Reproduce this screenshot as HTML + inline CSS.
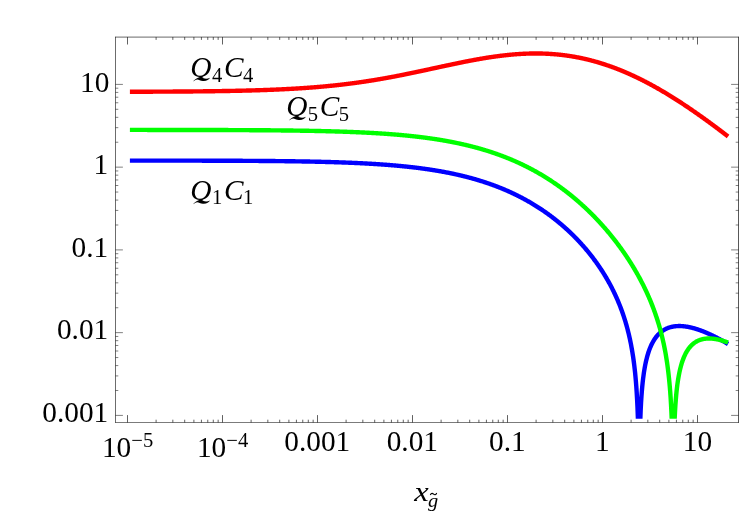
<!DOCTYPE html>
<html><head><meta charset="utf-8"><title>plot</title>
<style>html,body{margin:0;padding:0;background:#fff;}body{width:747px;height:515px;overflow:hidden;position:relative;font-family:"Liberation Serif",serif;}</style>
</head><body>
<svg width="747" height="515" viewBox="0 0 747 515" style="position:absolute;left:0;top:0;will-change:transform">
<defs><clipPath id="c"><rect x="115.5" y="37.1" width="623.0" height="381.59999999999997"/></clipPath></defs>
<rect x="0" y="0" width="747" height="515" fill="#fff"/>
<g clip-path="url(#c)" fill="none" stroke-width="4.4" stroke-linejoin="round" stroke-linecap="butt">
<path stroke="#0000ff" d="M129.90,160.59 L130.30,160.59 L130.70,160.59 L131.10,160.59 L131.50,160.59 L131.90,160.59 L132.29,160.59 L132.69,160.59 L133.09,160.59 L133.49,160.59 L133.89,160.59 L134.29,160.59 L134.69,160.59 L135.09,160.59 L135.49,160.59 L135.89,160.59 L136.28,160.59 L136.68,160.59 L137.08,160.59 L137.48,160.59 L137.88,160.59 L138.28,160.59 L138.68,160.59 L139.08,160.59 L139.48,160.59 L139.88,160.59 L140.27,160.59 L140.67,160.59 L141.07,160.59 L141.47,160.59 L141.87,160.59 L142.27,160.59 L142.67,160.59 L143.07,160.59 L143.47,160.59 L143.87,160.59 L144.27,160.60 L144.66,160.60 L145.06,160.60 L145.46,160.60 L145.86,160.60 L146.26,160.60 L146.66,160.60 L147.06,160.60 L147.46,160.60 L147.86,160.60 L148.26,160.60 L148.65,160.60 L149.05,160.60 L149.45,160.60 L149.85,160.60 L150.25,160.60 L150.65,160.60 L151.05,160.60 L151.45,160.60 L151.85,160.60 L152.25,160.60 L152.64,160.60 L153.04,160.60 L153.44,160.60 L153.84,160.60 L154.24,160.60 L154.64,160.60 L155.04,160.60 L155.44,160.60 L155.84,160.60 L156.24,160.60 L156.64,160.61 L157.03,160.61 L157.43,160.61 L157.83,160.61 L158.23,160.61 L158.63,160.61 L159.03,160.61 L159.43,160.61 L159.83,160.61 L160.23,160.61 L160.63,160.61 L161.02,160.61 L161.42,160.61 L161.82,160.61 L162.22,160.61 L162.62,160.61 L163.02,160.61 L163.42,160.61 L163.82,160.61 L164.22,160.61 L164.62,160.61 L165.01,160.61 L165.41,160.61 L165.81,160.61 L166.21,160.62 L166.61,160.62 L167.01,160.62 L167.41,160.62 L167.81,160.62 L168.21,160.62 L168.61,160.62 L169.01,160.62 L169.40,160.62 L169.80,160.62 L170.20,160.62 L170.60,160.62 L171.00,160.62 L171.40,160.62 L171.80,160.62 L172.20,160.62 L172.60,160.62 L173.00,160.62 L173.39,160.62 L173.79,160.62 L174.19,160.62 L174.59,160.63 L174.99,160.63 L175.39,160.63 L175.79,160.63 L176.19,160.63 L176.59,160.63 L176.99,160.63 L177.38,160.63 L177.78,160.63 L178.18,160.63 L178.58,160.63 L178.98,160.63 L179.38,160.63 L179.78,160.63 L180.18,160.63 L180.58,160.63 L180.98,160.63 L181.38,160.64 L181.77,160.64 L182.17,160.64 L182.57,160.64 L182.97,160.64 L183.37,160.64 L183.77,160.64 L184.17,160.64 L184.57,160.64 L184.97,160.64 L185.37,160.64 L185.76,160.64 L186.16,160.64 L186.56,160.64 L186.96,160.64 L187.36,160.65 L187.76,160.65 L188.16,160.65 L188.56,160.65 L188.96,160.65 L189.36,160.65 L189.75,160.65 L190.15,160.65 L190.55,160.65 L190.95,160.65 L191.35,160.65 L191.75,160.65 L192.15,160.65 L192.55,160.65 L192.95,160.66 L193.35,160.66 L193.75,160.66 L194.14,160.66 L194.54,160.66 L194.94,160.66 L195.34,160.66 L195.74,160.66 L196.14,160.66 L196.54,160.66 L196.94,160.66 L197.34,160.66 L197.74,160.67 L198.13,160.67 L198.53,160.67 L198.93,160.67 L199.33,160.67 L199.73,160.67 L200.13,160.67 L200.53,160.67 L200.93,160.67 L201.33,160.67 L201.73,160.67 L202.12,160.68 L202.52,160.68 L202.92,160.68 L203.32,160.68 L203.72,160.68 L204.12,160.68 L204.52,160.68 L204.92,160.68 L205.32,160.68 L205.72,160.68 L206.12,160.69 L206.51,160.69 L206.91,160.69 L207.31,160.69 L207.71,160.69 L208.11,160.69 L208.51,160.69 L208.91,160.69 L209.31,160.69 L209.71,160.70 L210.11,160.70 L210.50,160.70 L210.90,160.70 L211.30,160.70 L211.70,160.70 L212.10,160.70 L212.50,160.70 L212.90,160.70 L213.30,160.71 L213.70,160.71 L214.10,160.71 L214.49,160.71 L214.89,160.71 L215.29,160.71 L215.69,160.71 L216.09,160.71 L216.49,160.72 L216.89,160.72 L217.29,160.72 L217.69,160.72 L218.09,160.72 L218.49,160.72 L218.88,160.72 L219.28,160.72 L219.68,160.73 L220.08,160.73 L220.48,160.73 L220.88,160.73 L221.28,160.73 L221.68,160.73 L222.08,160.73 L222.48,160.74 L222.87,160.74 L223.27,160.74 L223.67,160.74 L224.07,160.74 L224.47,160.74 L224.87,160.74 L225.27,160.75 L225.67,160.75 L226.07,160.75 L226.47,160.75 L226.86,160.75 L227.26,160.75 L227.66,160.76 L228.06,160.76 L228.46,160.76 L228.86,160.76 L229.26,160.76 L229.66,160.76 L230.06,160.77 L230.46,160.77 L230.86,160.77 L231.25,160.77 L231.65,160.77 L232.05,160.77 L232.45,160.78 L232.85,160.78 L233.25,160.78 L233.65,160.78 L234.05,160.78 L234.45,160.78 L234.85,160.79 L235.24,160.79 L235.64,160.79 L236.04,160.79 L236.44,160.79 L236.84,160.80 L237.24,160.80 L237.64,160.80 L238.04,160.80 L238.44,160.80 L238.84,160.81 L239.23,160.81 L239.63,160.81 L240.03,160.81 L240.43,160.81 L240.83,160.82 L241.23,160.82 L241.63,160.82 L242.03,160.82 L242.43,160.82 L242.83,160.83 L243.23,160.83 L243.62,160.83 L244.02,160.83 L244.42,160.83 L244.82,160.84 L245.22,160.84 L245.62,160.84 L246.02,160.84 L246.42,160.85 L246.82,160.85 L247.22,160.85 L247.61,160.85 L248.01,160.86 L248.41,160.86 L248.81,160.86 L249.21,160.86 L249.61,160.87 L250.01,160.87 L250.41,160.87 L250.81,160.87 L251.21,160.88 L251.60,160.88 L252.00,160.88 L252.40,160.88 L252.80,160.89 L253.20,160.89 L253.60,160.89 L254.00,160.89 L254.40,160.90 L254.80,160.90 L255.20,160.90 L255.60,160.90 L255.99,160.91 L256.39,160.91 L256.79,160.91 L257.19,160.92 L257.59,160.92 L257.99,160.92 L258.39,160.92 L258.79,160.93 L259.19,160.93 L259.59,160.93 L259.98,160.94 L260.38,160.94 L260.78,160.94 L261.18,160.95 L261.58,160.95 L261.98,160.95 L262.38,160.96 L262.78,160.96 L263.18,160.96 L263.58,160.97 L263.97,160.97 L264.37,160.97 L264.77,160.98 L265.17,160.98 L265.57,160.98 L265.97,160.99 L266.37,160.99 L266.77,160.99 L267.17,161.00 L267.57,161.00 L267.97,161.00 L268.36,161.01 L268.76,161.01 L269.16,161.01 L269.56,161.02 L269.96,161.02 L270.36,161.02 L270.76,161.03 L271.16,161.03 L271.56,161.04 L271.96,161.04 L272.35,161.04 L272.75,161.05 L273.15,161.05 L273.55,161.06 L273.95,161.06 L274.35,161.06 L274.75,161.07 L275.15,161.07 L275.55,161.08 L275.95,161.08 L276.34,161.08 L276.74,161.09 L277.14,161.09 L277.54,161.10 L277.94,161.10 L278.34,161.10 L278.74,161.11 L279.14,161.11 L279.54,161.12 L279.94,161.12 L280.34,161.13 L280.73,161.13 L281.13,161.14 L281.53,161.14 L281.93,161.15 L282.33,161.15 L282.73,161.15 L283.13,161.16 L283.53,161.16 L283.93,161.17 L284.33,161.17 L284.72,161.18 L285.12,161.18 L285.52,161.19 L285.92,161.19 L286.32,161.20 L286.72,161.20 L287.12,161.21 L287.52,161.21 L287.92,161.22 L288.32,161.22 L288.72,161.23 L289.11,161.23 L289.51,161.24 L289.91,161.25 L290.31,161.25 L290.71,161.26 L291.11,161.26 L291.51,161.27 L291.91,161.27 L292.31,161.28 L292.71,161.28 L293.10,161.29 L293.50,161.30 L293.90,161.30 L294.30,161.31 L294.70,161.31 L295.10,161.32 L295.50,161.33 L295.90,161.33 L296.30,161.34 L296.70,161.34 L297.09,161.35 L297.49,161.36 L297.89,161.36 L298.29,161.37 L298.69,161.37 L299.09,161.38 L299.49,161.39 L299.89,161.39 L300.29,161.40 L300.69,161.41 L301.09,161.41 L301.48,161.42 L301.88,161.43 L302.28,161.43 L302.68,161.44 L303.08,161.45 L303.48,161.46 L303.88,161.46 L304.28,161.47 L304.68,161.48 L305.08,161.48 L305.47,161.49 L305.87,161.50 L306.27,161.51 L306.67,161.51 L307.07,161.52 L307.47,161.53 L307.87,161.54 L308.27,161.54 L308.67,161.55 L309.07,161.56 L309.46,161.57 L309.86,161.57 L310.26,161.58 L310.66,161.59 L311.06,161.60 L311.46,161.61 L311.86,161.61 L312.26,161.62 L312.66,161.63 L313.06,161.64 L313.46,161.65 L313.85,161.66 L314.25,161.66 L314.65,161.67 L315.05,161.68 L315.45,161.69 L315.85,161.70 L316.25,161.71 L316.65,161.72 L317.05,161.73 L317.45,161.73 L317.84,161.74 L318.24,161.75 L318.64,161.76 L319.04,161.77 L319.44,161.78 L319.84,161.79 L320.24,161.80 L320.64,161.81 L321.04,161.82 L321.44,161.83 L321.83,161.84 L322.23,161.85 L322.63,161.86 L323.03,161.87 L323.43,161.88 L323.83,161.89 L324.23,161.90 L324.63,161.91 L325.03,161.92 L325.43,161.93 L325.83,161.94 L326.22,161.95 L326.62,161.96 L327.02,161.97 L327.42,161.98 L327.82,161.99 L328.22,162.00 L328.62,162.02 L329.02,162.03 L329.42,162.04 L329.82,162.05 L330.21,162.06 L330.61,162.07 L331.01,162.08 L331.41,162.10 L331.81,162.11 L332.21,162.12 L332.61,162.13 L333.01,162.14 L333.41,162.16 L333.81,162.17 L334.20,162.18 L334.60,162.19 L335.00,162.20 L335.40,162.22 L335.80,162.23 L336.20,162.24 L336.60,162.25 L337.00,162.27 L337.40,162.28 L337.80,162.29 L338.20,162.31 L338.59,162.32 L338.99,162.33 L339.39,162.35 L339.79,162.36 L340.19,162.37 L340.59,162.39 L340.99,162.40 L341.39,162.42 L341.79,162.43 L342.19,162.44 L342.58,162.46 L342.98,162.47 L343.38,162.49 L343.78,162.50 L344.18,162.52 L344.58,162.53 L344.98,162.55 L345.38,162.56 L345.78,162.58 L346.18,162.59 L346.57,162.61 L346.97,162.62 L347.37,162.64 L347.77,162.65 L348.17,162.67 L348.57,162.68 L348.97,162.70 L349.37,162.72 L349.77,162.73 L350.17,162.75 L350.57,162.76 L350.96,162.78 L351.36,162.80 L351.76,162.81 L352.16,162.83 L352.56,162.85 L352.96,162.87 L353.36,162.88 L353.76,162.90 L354.16,162.92 L354.56,162.93 L354.95,162.95 L355.35,162.97 L355.75,162.99 L356.15,163.01 L356.55,163.02 L356.95,163.04 L357.35,163.06 L357.75,163.08 L358.15,163.10 L358.55,163.12 L358.94,163.14 L359.34,163.16 L359.74,163.17 L360.14,163.19 L360.54,163.21 L360.94,163.23 L361.34,163.25 L361.74,163.27 L362.14,163.29 L362.54,163.31 L362.94,163.33 L363.33,163.35 L363.73,163.37 L364.13,163.40 L364.53,163.42 L364.93,163.44 L365.33,163.46 L365.73,163.48 L366.13,163.50 L366.53,163.52 L366.93,163.54 L367.32,163.57 L367.72,163.59 L368.12,163.61 L368.52,163.63 L368.92,163.66 L369.32,163.68 L369.72,163.70 L370.12,163.72 L370.52,163.75 L370.92,163.77 L371.31,163.79 L371.71,163.82 L372.11,163.84 L372.51,163.86 L372.91,163.89 L373.31,163.91 L373.71,163.94 L374.11,163.96 L374.51,163.99 L374.91,164.01 L375.31,164.04 L375.70,164.06 L376.10,164.09 L376.50,164.11 L376.90,164.14 L377.30,164.16 L377.70,164.19 L378.10,164.22 L378.50,164.24 L378.90,164.27 L379.30,164.30 L379.69,164.32 L380.09,164.35 L380.49,164.38 L380.89,164.41 L381.29,164.43 L381.69,164.46 L382.09,164.49 L382.49,164.52 L382.89,164.55 L383.29,164.58 L383.68,164.60 L384.08,164.63 L384.48,164.66 L384.88,164.69 L385.28,164.72 L385.68,164.75 L386.08,164.78 L386.48,164.81 L386.88,164.84 L387.28,164.87 L387.68,164.90 L388.07,164.93 L388.47,164.97 L388.87,165.00 L389.27,165.03 L389.67,165.06 L390.07,165.09 L390.47,165.13 L390.87,165.16 L391.27,165.19 L391.67,165.22 L392.06,165.26 L392.46,165.29 L392.86,165.32 L393.26,165.36 L393.66,165.39 L394.06,165.43 L394.46,165.46 L394.86,165.49 L395.26,165.53 L395.66,165.56 L396.05,165.60 L396.45,165.64 L396.85,165.67 L397.25,165.71 L397.65,165.74 L398.05,165.78 L398.45,165.82 L398.85,165.85 L399.25,165.89 L399.65,165.93 L400.05,165.97 L400.44,166.00 L400.84,166.04 L401.24,166.08 L401.64,166.12 L402.04,166.16 L402.44,166.20 L402.84,166.24 L403.24,166.28 L403.64,166.32 L404.04,166.36 L404.43,166.40 L404.83,166.44 L405.23,166.48 L405.63,166.52 L406.03,166.56 L406.43,166.60 L406.83,166.64 L407.23,166.69 L407.63,166.73 L408.03,166.77 L408.42,166.82 L408.82,166.86 L409.22,166.90 L409.62,166.95 L410.02,166.99 L410.42,167.04 L410.82,167.08 L411.22,167.13 L411.62,167.17 L412.02,167.22 L412.42,167.26 L412.81,167.31 L413.21,167.35 L413.61,167.40 L414.01,167.45 L414.41,167.50 L414.81,167.54 L415.21,167.59 L415.61,167.64 L416.01,167.69 L416.41,167.74 L416.80,167.79 L417.20,167.84 L417.60,167.89 L418.00,167.94 L418.40,167.99 L418.80,168.04 L419.20,168.09 L419.60,168.14 L420.00,168.19 L420.40,168.24 L420.79,168.29 L421.19,168.35 L421.59,168.40 L421.99,168.45 L422.39,168.51 L422.79,168.56 L423.19,168.61 L423.59,168.67 L423.99,168.72 L424.39,168.78 L424.79,168.84 L425.18,168.89 L425.58,168.95 L425.98,169.00 L426.38,169.06 L426.78,169.12 L427.18,169.18 L427.58,169.23 L427.98,169.29 L428.38,169.35 L428.78,169.41 L429.17,169.47 L429.57,169.53 L429.97,169.59 L430.37,169.65 L430.77,169.71 L431.17,169.77 L431.57,169.83 L431.97,169.90 L432.37,169.96 L432.77,170.02 L433.16,170.08 L433.56,170.15 L433.96,170.21 L434.36,170.27 L434.76,170.34 L435.16,170.40 L435.56,170.47 L435.96,170.54 L436.36,170.60 L436.76,170.67 L437.16,170.74 L437.55,170.80 L437.95,170.87 L438.35,170.94 L438.75,171.01 L439.15,171.08 L439.55,171.15 L439.95,171.22 L440.35,171.29 L440.75,171.36 L441.15,171.43 L441.54,171.50 L441.94,171.57 L442.34,171.64 L442.74,171.72 L443.14,171.79 L443.54,171.86 L443.94,171.94 L444.34,172.01 L444.74,172.09 L445.14,172.16 L445.53,172.24 L445.93,172.31 L446.33,172.39 L446.73,172.47 L447.13,172.54 L447.53,172.62 L447.93,172.70 L448.33,172.78 L448.73,172.86 L449.13,172.94 L449.53,173.02 L449.92,173.10 L450.32,173.18 L450.72,173.26 L451.12,173.34 L451.52,173.43 L451.92,173.51 L452.32,173.59 L452.72,173.68 L453.12,173.76 L453.52,173.85 L453.91,173.93 L454.31,174.02 L454.71,174.10 L455.11,174.19 L455.51,174.28 L455.91,174.37 L456.31,174.46 L456.71,174.54 L457.11,174.63 L457.51,174.72 L457.90,174.81 L458.30,174.91 L458.70,175.00 L459.10,175.09 L459.50,175.18 L459.90,175.27 L460.30,175.37 L460.70,175.46 L461.10,175.56 L461.50,175.65 L461.90,175.75 L462.29,175.84 L462.69,175.94 L463.09,176.04 L463.49,176.14 L463.89,176.23 L464.29,176.33 L464.69,176.43 L465.09,176.53 L465.49,176.63 L465.89,176.73 L466.28,176.84 L466.68,176.94 L467.08,177.04 L467.48,177.14 L467.88,177.25 L468.28,177.35 L468.68,177.46 L469.08,177.56 L469.48,177.67 L469.88,177.78 L470.27,177.89 L470.67,177.99 L471.07,178.10 L471.47,178.21 L471.87,178.32 L472.27,178.43 L472.67,178.54 L473.07,178.65 L473.47,178.77 L473.87,178.88 L474.27,178.99 L474.66,179.11 L475.06,179.22 L475.46,179.34 L475.86,179.45 L476.26,179.57 L476.66,179.69 L477.06,179.80 L477.46,179.92 L477.86,180.04 L478.26,180.16 L478.65,180.28 L479.05,180.40 L479.45,180.53 L479.85,180.65 L480.25,180.77 L480.65,180.90 L481.05,181.02 L481.45,181.14 L481.85,181.27 L482.25,181.40 L482.64,181.52 L483.04,181.65 L483.44,181.78 L483.84,181.91 L484.24,182.04 L484.64,182.17 L485.04,182.30 L485.44,182.43 L485.84,182.56 L486.24,182.70 L486.64,182.83 L487.03,182.97 L487.43,183.10 L487.83,183.24 L488.23,183.38 L488.63,183.51 L489.03,183.65 L489.43,183.79 L489.83,183.93 L490.23,184.07 L490.63,184.21 L491.02,184.35 L491.42,184.50 L491.82,184.64 L492.22,184.78 L492.62,184.93 L493.02,185.07 L493.42,185.22 L493.82,185.37 L494.22,185.52 L494.62,185.66 L495.01,185.81 L495.41,185.96 L495.81,186.12 L496.21,186.27 L496.61,186.42 L497.01,186.57 L497.41,186.73 L497.81,186.88 L498.21,187.04 L498.61,187.19 L499.01,187.35 L499.40,187.51 L499.80,187.67 L500.20,187.83 L500.60,187.99 L501.00,188.15 L501.40,188.31 L501.80,188.48 L502.20,188.64 L502.60,188.81 L503.00,188.97 L503.39,189.14 L503.79,189.31 L504.19,189.47 L504.59,189.64 L504.99,189.81 L505.39,189.98 L505.79,190.15 L506.19,190.33 L506.59,190.50 L506.99,190.67 L507.38,190.85 L507.78,191.03 L508.18,191.20 L508.58,191.38 L508.98,191.56 L509.38,191.74 L509.78,191.92 L510.18,192.10 L510.58,192.28 L510.98,192.47 L511.38,192.65 L511.77,192.83 L512.17,193.02 L512.57,193.21 L512.97,193.40 L513.37,193.58 L513.77,193.77 L514.17,193.96 L514.57,194.16 L514.97,194.35 L515.37,194.54 L515.76,194.74 L516.16,194.93 L516.56,195.13 L516.96,195.33 L517.36,195.52 L517.76,195.72 L518.16,195.92 L518.56,196.12 L518.96,196.33 L519.36,196.53 L519.75,196.73 L520.15,196.94 L520.55,197.15 L520.95,197.35 L521.35,197.56 L521.75,197.77 L522.15,197.98 L522.55,198.19 L522.95,198.41 L523.35,198.62 L523.75,198.83 L524.14,199.05 L524.54,199.27 L524.94,199.48 L525.34,199.70 L525.74,199.92 L526.14,200.14 L526.54,200.37 L526.94,200.59 L527.34,200.81 L527.74,201.04 L528.13,201.26 L528.53,201.49 L528.93,201.72 L529.33,201.95 L529.73,202.18 L530.13,202.41 L530.53,202.65 L530.93,202.88 L531.33,203.11 L531.73,203.35 L532.12,203.59 L532.52,203.83 L532.92,204.07 L533.32,204.31 L533.72,204.55 L534.12,204.79 L534.52,205.04 L534.92,205.28 L535.32,205.53 L535.72,205.78 L536.12,206.03 L536.51,206.28 L536.91,206.53 L537.31,206.78 L537.71,207.04 L538.11,207.29 L538.51,207.55 L538.91,207.81 L539.31,208.07 L539.71,208.33 L540.11,208.59 L540.50,208.85 L540.90,209.12 L541.30,209.38 L541.70,209.65 L542.10,209.92 L542.50,210.19 L542.90,210.46 L543.30,210.73 L543.70,211.00 L544.10,211.28 L544.49,211.55 L544.89,211.83 L545.29,212.11 L545.69,212.39 L546.09,212.67 L546.49,212.95 L546.89,213.24 L547.29,213.52 L547.69,213.81 L548.09,214.10 L548.49,214.39 L548.88,214.68 L549.28,214.97 L549.68,215.27 L550.08,215.56 L550.48,215.86 L550.88,216.16 L551.28,216.46 L551.68,216.76 L552.08,217.06 L552.48,217.36 L552.87,217.67 L553.27,217.98 L553.67,218.28 L554.07,218.59 L554.47,218.90 L554.87,219.22 L555.27,219.53 L555.67,219.85 L556.07,220.17 L556.47,220.49 L556.86,220.81 L557.26,221.13 L557.66,221.45 L558.06,221.78 L558.46,222.10 L558.86,222.43 L559.26,222.76 L559.66,223.10 L560.06,223.43 L560.46,223.76 L560.86,224.10 L561.25,224.44 L561.65,224.78 L562.05,225.12 L562.45,225.47 L562.85,225.81 L563.25,226.16 L563.65,226.51 L564.05,226.86 L564.45,227.21 L564.85,227.56 L565.24,227.92 L565.64,228.28 L566.04,228.64 L566.44,229.00 L566.84,229.36 L567.24,229.73 L567.64,230.09 L568.04,230.46 L568.44,230.83 L568.84,231.21 L569.23,231.58 L569.63,231.96 L570.03,232.33 L570.43,232.71 L570.83,233.10 L571.23,233.48 L571.63,233.87 L572.03,234.26 L572.43,234.65 L572.83,235.04 L573.23,235.43 L573.62,235.83 L574.02,236.23 L574.42,236.63 L574.82,237.03 L575.22,237.44 L575.62,237.84 L576.02,238.25 L576.42,238.66 L576.82,239.08 L577.22,239.49 L577.61,239.91 L578.01,240.33 L578.41,240.75 L578.81,241.18 L579.21,241.61 L579.61,242.04 L580.01,242.47 L580.41,242.90 L580.81,243.34 L581.21,243.78 L581.61,244.22 L582.00,244.67 L582.40,245.11 L582.80,245.56 L583.20,246.01 L583.60,246.47 L584.00,246.93 L584.40,247.39 L584.80,247.85 L585.20,248.31 L585.60,248.78 L585.99,249.25 L586.39,249.73 L586.79,250.20 L587.19,250.68 L587.59,251.16 L587.99,251.65 L588.39,252.14 L588.79,252.63 L589.19,253.12 L589.59,253.62 L589.98,254.12 L590.38,254.62 L590.78,255.13 L591.18,255.64 L591.58,256.15 L591.98,256.67 L592.38,257.19 L592.78,257.71 L593.18,258.24 L593.58,258.77 L593.98,259.30 L594.37,259.84 L594.77,260.38 L595.17,260.92 L595.57,261.47 L595.97,262.02 L596.37,262.58 L596.77,263.14 L597.17,263.70 L597.57,264.27 L597.97,264.84 L598.36,265.42 L598.76,266.00 L599.16,266.58 L599.56,267.17 L599.96,267.76 L600.36,268.36 L600.76,268.96 L601.16,269.57 L601.56,270.18 L601.96,270.80 L602.35,271.42 L602.75,272.05 L603.15,272.68 L603.55,273.31 L603.95,273.96 L604.35,274.60 L604.75,275.26 L605.15,275.91 L605.55,276.58 L605.95,277.25 L606.35,277.92 L606.74,278.61 L607.14,279.29 L607.54,279.99 L607.94,280.69 L608.34,281.40 L608.74,282.11 L609.14,282.83 L609.54,283.56 L609.94,284.30 L610.34,285.04 L610.73,285.79 L611.13,286.55 L611.53,287.32 L611.93,288.09 L612.33,288.88 L612.73,289.67 L613.13,290.47 L613.53,291.28 L613.93,292.10 L614.33,292.93 L614.72,293.77 L615.12,294.62 L615.52,295.49 L615.92,296.36 L616.32,297.24 L616.72,298.14 L617.12,299.04 L617.52,299.96 L617.92,300.90 L618.32,301.84 L618.72,302.80 L619.11,303.78 L619.51,304.77 L619.91,305.78 L620.31,306.80 L620.71,307.84 L621.11,308.89 L621.51,309.97 L621.91,311.06 L622.31,312.18 L622.71,313.31 L623.10,314.47 L623.50,315.65 L623.90,316.86 L624.30,318.09 L624.70,319.35 L625.10,320.63 L625.50,321.95 L625.90,323.29 L626.30,324.68 L626.70,326.09 L627.09,327.55 L627.49,329.04 L627.89,330.58 L628.29,332.17 L628.69,333.80 L629.09,335.49 L629.49,337.24 L629.89,339.04 L630.29,340.92 L630.69,342.87 L631.09,344.91 L631.48,347.03 L631.88,349.25 L632.28,351.59 L632.68,354.05 L633.08,356.65 L633.48,359.41 L633.88,362.35 L634.28,365.50 L634.68,368.90 L635.08,372.60 L635.47,376.65 L635.87,381.15 L636.27,386.20 L636.67,391.99 L637.07,398.76 L637.47,406.96 L637.87,417.41 L638.27,431.91 L638.67,440.00 L639.07,440.00 L639.46,440.00 L639.86,435.38 L640.26,420.72 L640.66,410.49 L641.06,402.66 L641.46,396.34 L641.86,391.05 L642.26,386.51 L642.66,382.55 L643.06,379.05 L643.46,375.91 L643.85,373.07 L644.25,370.49 L644.65,368.12 L645.05,365.94 L645.45,363.92 L645.85,362.04 L646.25,360.29 L646.65,358.65 L647.05,357.12 L647.45,355.67 L647.84,354.31 L648.24,353.02 L648.64,351.80 L649.04,350.65 L649.44,349.55 L649.84,348.51 L650.24,347.51 L650.64,346.57 L651.04,345.66 L651.44,344.80 L651.83,343.98 L652.23,343.19 L652.63,342.44 L653.03,341.72 L653.43,341.02 L653.83,340.36 L654.23,339.72 L654.63,339.11 L655.03,338.53 L655.43,337.96 L655.83,337.42 L656.22,336.90 L656.62,336.40 L657.02,335.92 L657.42,335.45 L657.82,335.01 L658.22,334.58 L658.62,334.17 L659.02,333.77 L659.42,333.39 L659.82,333.02 L660.21,332.67 L660.61,332.33 L661.01,332.00 L661.41,331.69 L661.81,331.39 L662.21,331.10 L662.61,330.82 L663.01,330.55 L663.41,330.29 L663.81,330.04 L664.20,329.80 L664.60,329.58 L665.00,329.36 L665.40,329.15 L665.80,328.95 L666.20,328.75 L666.60,328.57 L667.00,328.39 L667.40,328.22 L667.80,328.06 L668.20,327.91 L668.59,327.77 L668.99,327.63 L669.39,327.49 L669.79,327.37 L670.19,327.25 L670.59,327.14 L670.99,327.03 L671.39,326.93 L671.79,326.84 L672.19,326.75 L672.58,326.67 L672.98,326.59 L673.38,326.52 L673.78,326.46 L674.18,326.40 L674.58,326.34 L674.98,326.29 L675.38,326.25 L675.78,326.21 L676.18,326.17 L676.57,326.14 L676.97,326.12 L677.37,326.09 L677.77,326.08 L678.17,326.06 L678.57,326.05 L678.97,326.05 L679.37,326.05 L679.77,326.05 L680.17,326.06 L680.57,326.07 L680.96,326.08 L681.36,326.10 L681.76,326.12 L682.16,326.15 L682.56,326.18 L682.96,326.21 L683.36,326.25 L683.76,326.29 L684.16,326.33 L684.56,326.38 L684.95,326.43 L685.35,326.48 L685.75,326.54 L686.15,326.59 L686.55,326.66 L686.95,326.72 L687.35,326.79 L687.75,326.86 L688.15,326.93 L688.55,327.01 L688.94,327.09 L689.34,327.17 L689.74,327.25 L690.14,327.34 L690.54,327.43 L690.94,327.52 L691.34,327.62 L691.74,327.71 L692.14,327.81 L692.54,327.91 L692.94,328.02 L693.33,328.13 L693.73,328.23 L694.13,328.35 L694.53,328.46 L694.93,328.58 L695.33,328.69 L695.73,328.81 L696.13,328.94 L696.53,329.06 L696.93,329.19 L697.32,329.32 L697.72,329.45 L698.12,329.58 L698.52,329.72 L698.92,329.85 L699.32,329.99 L699.72,330.13 L700.12,330.28 L700.52,330.42 L700.92,330.57 L701.31,330.72 L701.71,330.87 L702.11,331.02 L702.51,331.17 L702.91,331.33 L703.31,331.48 L703.71,331.64 L704.11,331.80 L704.51,331.97 L704.91,332.13 L705.31,332.30 L705.70,332.46 L706.10,332.63 L706.50,332.80 L706.90,332.97 L707.30,333.15 L707.70,333.32 L708.10,333.50 L708.50,333.68 L708.90,333.86 L709.30,334.04 L709.69,334.22 L710.09,334.41 L710.49,334.59 L710.89,334.78 L711.29,334.97 L711.69,335.16 L712.09,335.35 L712.49,335.54 L712.89,335.74 L713.29,335.93 L713.68,336.13 L714.08,336.33 L714.48,336.52 L714.88,336.73 L715.28,336.93 L715.68,337.13 L716.08,337.33 L716.48,337.54 L716.88,337.75 L717.28,337.95 L717.68,338.16 L718.07,338.37 L718.47,338.59 L718.87,338.80 L719.27,339.01 L719.67,339.23 L720.07,339.44 L720.47,339.66 L720.87,339.88 L721.27,340.10 L721.67,340.32 L722.06,340.54 L722.46,340.76 L722.86,340.99 L723.26,341.21 L723.66,341.44 L724.06,341.66 L724.46,341.89 L724.86,342.12 L725.26,342.35 L725.66,342.58 L726.05,342.81 L726.45,343.05 L726.85,343.28 L727.25,343.52 L727.65,343.75 L728.05,343.99"/>
<path stroke="#ff0000" d="M129.90,91.75 L130.30,91.75 L130.70,91.75 L131.10,91.74 L131.50,91.74 L131.90,91.74 L132.29,91.74 L132.69,91.74 L133.09,91.74 L133.49,91.74 L133.89,91.74 L134.29,91.74 L134.69,91.73 L135.09,91.73 L135.49,91.73 L135.89,91.73 L136.28,91.73 L136.68,91.73 L137.08,91.73 L137.48,91.73 L137.88,91.73 L138.28,91.72 L138.68,91.72 L139.08,91.72 L139.48,91.72 L139.88,91.72 L140.27,91.72 L140.67,91.72 L141.07,91.72 L141.47,91.72 L141.87,91.71 L142.27,91.71 L142.67,91.71 L143.07,91.71 L143.47,91.71 L143.87,91.71 L144.27,91.71 L144.66,91.70 L145.06,91.70 L145.46,91.70 L145.86,91.70 L146.26,91.70 L146.66,91.70 L147.06,91.70 L147.46,91.69 L147.86,91.69 L148.26,91.69 L148.65,91.69 L149.05,91.69 L149.45,91.69 L149.85,91.69 L150.25,91.68 L150.65,91.68 L151.05,91.68 L151.45,91.68 L151.85,91.68 L152.25,91.68 L152.64,91.68 L153.04,91.67 L153.44,91.67 L153.84,91.67 L154.24,91.67 L154.64,91.67 L155.04,91.67 L155.44,91.66 L155.84,91.66 L156.24,91.66 L156.64,91.66 L157.03,91.66 L157.43,91.66 L157.83,91.65 L158.23,91.65 L158.63,91.65 L159.03,91.65 L159.43,91.65 L159.83,91.64 L160.23,91.64 L160.63,91.64 L161.02,91.64 L161.42,91.64 L161.82,91.64 L162.22,91.63 L162.62,91.63 L163.02,91.63 L163.42,91.63 L163.82,91.63 L164.22,91.62 L164.62,91.62 L165.01,91.62 L165.41,91.62 L165.81,91.61 L166.21,91.61 L166.61,91.61 L167.01,91.61 L167.41,91.61 L167.81,91.60 L168.21,91.60 L168.61,91.60 L169.01,91.60 L169.40,91.60 L169.80,91.59 L170.20,91.59 L170.60,91.59 L171.00,91.59 L171.40,91.58 L171.80,91.58 L172.20,91.58 L172.60,91.58 L173.00,91.57 L173.39,91.57 L173.79,91.57 L174.19,91.57 L174.59,91.56 L174.99,91.56 L175.39,91.56 L175.79,91.56 L176.19,91.55 L176.59,91.55 L176.99,91.55 L177.38,91.55 L177.78,91.54 L178.18,91.54 L178.58,91.54 L178.98,91.54 L179.38,91.53 L179.78,91.53 L180.18,91.53 L180.58,91.52 L180.98,91.52 L181.38,91.52 L181.77,91.52 L182.17,91.51 L182.57,91.51 L182.97,91.51 L183.37,91.50 L183.77,91.50 L184.17,91.50 L184.57,91.50 L184.97,91.49 L185.37,91.49 L185.76,91.49 L186.16,91.48 L186.56,91.48 L186.96,91.48 L187.36,91.47 L187.76,91.47 L188.16,91.47 L188.56,91.46 L188.96,91.46 L189.36,91.46 L189.75,91.45 L190.15,91.45 L190.55,91.45 L190.95,91.44 L191.35,91.44 L191.75,91.44 L192.15,91.43 L192.55,91.43 L192.95,91.43 L193.35,91.42 L193.75,91.42 L194.14,91.41 L194.54,91.41 L194.94,91.41 L195.34,91.40 L195.74,91.40 L196.14,91.40 L196.54,91.39 L196.94,91.39 L197.34,91.38 L197.74,91.38 L198.13,91.38 L198.53,91.37 L198.93,91.37 L199.33,91.36 L199.73,91.36 L200.13,91.36 L200.53,91.35 L200.93,91.35 L201.33,91.34 L201.73,91.34 L202.12,91.33 L202.52,91.33 L202.92,91.33 L203.32,91.32 L203.72,91.32 L204.12,91.31 L204.52,91.31 L204.92,91.30 L205.32,91.30 L205.72,91.29 L206.12,91.29 L206.51,91.28 L206.91,91.28 L207.31,91.28 L207.71,91.27 L208.11,91.27 L208.51,91.26 L208.91,91.26 L209.31,91.25 L209.71,91.25 L210.11,91.24 L210.50,91.24 L210.90,91.23 L211.30,91.23 L211.70,91.22 L212.10,91.22 L212.50,91.21 L212.90,91.20 L213.30,91.20 L213.70,91.19 L214.10,91.19 L214.49,91.18 L214.89,91.18 L215.29,91.17 L215.69,91.17 L216.09,91.16 L216.49,91.15 L216.89,91.15 L217.29,91.14 L217.69,91.14 L218.09,91.13 L218.49,91.13 L218.88,91.12 L219.28,91.11 L219.68,91.11 L220.08,91.10 L220.48,91.09 L220.88,91.09 L221.28,91.08 L221.68,91.08 L222.08,91.07 L222.48,91.06 L222.87,91.06 L223.27,91.05 L223.67,91.04 L224.07,91.04 L224.47,91.03 L224.87,91.02 L225.27,91.02 L225.67,91.01 L226.07,91.00 L226.47,91.00 L226.86,90.99 L227.26,90.98 L227.66,90.98 L228.06,90.97 L228.46,90.96 L228.86,90.95 L229.26,90.95 L229.66,90.94 L230.06,90.93 L230.46,90.92 L230.86,90.92 L231.25,90.91 L231.65,90.90 L232.05,90.89 L232.45,90.89 L232.85,90.88 L233.25,90.87 L233.65,90.86 L234.05,90.85 L234.45,90.85 L234.85,90.84 L235.24,90.83 L235.64,90.82 L236.04,90.81 L236.44,90.80 L236.84,90.80 L237.24,90.79 L237.64,90.78 L238.04,90.77 L238.44,90.76 L238.84,90.75 L239.23,90.74 L239.63,90.74 L240.03,90.73 L240.43,90.72 L240.83,90.71 L241.23,90.70 L241.63,90.69 L242.03,90.68 L242.43,90.67 L242.83,90.66 L243.23,90.65 L243.62,90.64 L244.02,90.63 L244.42,90.62 L244.82,90.61 L245.22,90.60 L245.62,90.59 L246.02,90.58 L246.42,90.57 L246.82,90.56 L247.22,90.55 L247.61,90.54 L248.01,90.53 L248.41,90.52 L248.81,90.51 L249.21,90.50 L249.61,90.49 L250.01,90.48 L250.41,90.47 L250.81,90.46 L251.21,90.45 L251.60,90.43 L252.00,90.42 L252.40,90.41 L252.80,90.40 L253.20,90.39 L253.60,90.38 L254.00,90.37 L254.40,90.35 L254.80,90.34 L255.20,90.33 L255.60,90.32 L255.99,90.31 L256.39,90.30 L256.79,90.28 L257.19,90.27 L257.59,90.26 L257.99,90.25 L258.39,90.23 L258.79,90.22 L259.19,90.21 L259.59,90.19 L259.98,90.18 L260.38,90.17 L260.78,90.16 L261.18,90.14 L261.58,90.13 L261.98,90.12 L262.38,90.10 L262.78,90.09 L263.18,90.08 L263.58,90.06 L263.97,90.05 L264.37,90.03 L264.77,90.02 L265.17,90.01 L265.57,89.99 L265.97,89.98 L266.37,89.96 L266.77,89.95 L267.17,89.93 L267.57,89.92 L267.97,89.90 L268.36,89.89 L268.76,89.87 L269.16,89.86 L269.56,89.84 L269.96,89.83 L270.36,89.81 L270.76,89.80 L271.16,89.78 L271.56,89.76 L271.96,89.75 L272.35,89.73 L272.75,89.72 L273.15,89.70 L273.55,89.68 L273.95,89.67 L274.35,89.65 L274.75,89.63 L275.15,89.62 L275.55,89.60 L275.95,89.58 L276.34,89.56 L276.74,89.55 L277.14,89.53 L277.54,89.51 L277.94,89.49 L278.34,89.48 L278.74,89.46 L279.14,89.44 L279.54,89.42 L279.94,89.40 L280.34,89.39 L280.73,89.37 L281.13,89.35 L281.53,89.33 L281.93,89.31 L282.33,89.29 L282.73,89.27 L283.13,89.25 L283.53,89.23 L283.93,89.21 L284.33,89.19 L284.72,89.17 L285.12,89.15 L285.52,89.13 L285.92,89.11 L286.32,89.09 L286.72,89.07 L287.12,89.05 L287.52,89.03 L287.92,89.01 L288.32,88.99 L288.72,88.97 L289.11,88.95 L289.51,88.92 L289.91,88.90 L290.31,88.88 L290.71,88.86 L291.11,88.84 L291.51,88.82 L291.91,88.79 L292.31,88.77 L292.71,88.75 L293.10,88.72 L293.50,88.70 L293.90,88.68 L294.30,88.66 L294.70,88.63 L295.10,88.61 L295.50,88.58 L295.90,88.56 L296.30,88.54 L296.70,88.51 L297.09,88.49 L297.49,88.46 L297.89,88.44 L298.29,88.41 L298.69,88.39 L299.09,88.36 L299.49,88.34 L299.89,88.31 L300.29,88.29 L300.69,88.26 L301.09,88.24 L301.48,88.21 L301.88,88.18 L302.28,88.16 L302.68,88.13 L303.08,88.10 L303.48,88.08 L303.88,88.05 L304.28,88.02 L304.68,87.99 L305.08,87.97 L305.47,87.94 L305.87,87.91 L306.27,87.88 L306.67,87.86 L307.07,87.83 L307.47,87.80 L307.87,87.77 L308.27,87.74 L308.67,87.71 L309.07,87.68 L309.46,87.65 L309.86,87.62 L310.26,87.59 L310.66,87.56 L311.06,87.53 L311.46,87.50 L311.86,87.47 L312.26,87.44 L312.66,87.41 L313.06,87.38 L313.46,87.35 L313.85,87.32 L314.25,87.28 L314.65,87.25 L315.05,87.22 L315.45,87.19 L315.85,87.15 L316.25,87.12 L316.65,87.09 L317.05,87.06 L317.45,87.02 L317.84,86.99 L318.24,86.96 L318.64,86.92 L319.04,86.89 L319.44,86.85 L319.84,86.82 L320.24,86.78 L320.64,86.75 L321.04,86.71 L321.44,86.68 L321.83,86.64 L322.23,86.61 L322.63,86.57 L323.03,86.54 L323.43,86.50 L323.83,86.46 L324.23,86.43 L324.63,86.39 L325.03,86.35 L325.43,86.32 L325.83,86.28 L326.22,86.24 L326.62,86.20 L327.02,86.17 L327.42,86.13 L327.82,86.09 L328.22,86.05 L328.62,86.01 L329.02,85.97 L329.42,85.93 L329.82,85.89 L330.21,85.85 L330.61,85.81 L331.01,85.77 L331.41,85.73 L331.81,85.69 L332.21,85.65 L332.61,85.61 L333.01,85.57 L333.41,85.53 L333.81,85.49 L334.20,85.44 L334.60,85.40 L335.00,85.36 L335.40,85.32 L335.80,85.27 L336.20,85.23 L336.60,85.19 L337.00,85.14 L337.40,85.10 L337.80,85.06 L338.20,85.01 L338.59,84.97 L338.99,84.92 L339.39,84.88 L339.79,84.83 L340.19,84.79 L340.59,84.74 L340.99,84.70 L341.39,84.65 L341.79,84.60 L342.19,84.56 L342.58,84.51 L342.98,84.46 L343.38,84.42 L343.78,84.37 L344.18,84.32 L344.58,84.27 L344.98,84.23 L345.38,84.18 L345.78,84.13 L346.18,84.08 L346.57,84.03 L346.97,83.98 L347.37,83.93 L347.77,83.88 L348.17,83.83 L348.57,83.78 L348.97,83.73 L349.37,83.68 L349.77,83.63 L350.17,83.58 L350.57,83.53 L350.96,83.48 L351.36,83.43 L351.76,83.37 L352.16,83.32 L352.56,83.27 L352.96,83.22 L353.36,83.16 L353.76,83.11 L354.16,83.06 L354.56,83.00 L354.95,82.95 L355.35,82.90 L355.75,82.84 L356.15,82.79 L356.55,82.73 L356.95,82.68 L357.35,82.62 L357.75,82.57 L358.15,82.51 L358.55,82.45 L358.94,82.40 L359.34,82.34 L359.74,82.28 L360.14,82.23 L360.54,82.17 L360.94,82.11 L361.34,82.06 L361.74,82.00 L362.14,81.94 L362.54,81.88 L362.94,81.82 L363.33,81.76 L363.73,81.70 L364.13,81.64 L364.53,81.58 L364.93,81.52 L365.33,81.46 L365.73,81.40 L366.13,81.34 L366.53,81.28 L366.93,81.22 L367.32,81.16 L367.72,81.10 L368.12,81.04 L368.52,80.98 L368.92,80.91 L369.32,80.85 L369.72,80.79 L370.12,80.73 L370.52,80.66 L370.92,80.60 L371.31,80.54 L371.71,80.47 L372.11,80.41 L372.51,80.34 L372.91,80.28 L373.31,80.21 L373.71,80.15 L374.11,80.08 L374.51,80.02 L374.91,79.95 L375.31,79.89 L375.70,79.82 L376.10,79.75 L376.50,79.69 L376.90,79.62 L377.30,79.55 L377.70,79.49 L378.10,79.42 L378.50,79.35 L378.90,79.28 L379.30,79.21 L379.69,79.15 L380.09,79.08 L380.49,79.01 L380.89,78.94 L381.29,78.87 L381.69,78.80 L382.09,78.73 L382.49,78.66 L382.89,78.59 L383.29,78.52 L383.68,78.45 L384.08,78.38 L384.48,78.31 L384.88,78.24 L385.28,78.16 L385.68,78.09 L386.08,78.02 L386.48,77.95 L386.88,77.88 L387.28,77.80 L387.68,77.73 L388.07,77.66 L388.47,77.59 L388.87,77.51 L389.27,77.44 L389.67,77.37 L390.07,77.29 L390.47,77.22 L390.87,77.14 L391.27,77.07 L391.67,76.99 L392.06,76.92 L392.46,76.84 L392.86,76.77 L393.26,76.69 L393.66,76.62 L394.06,76.54 L394.46,76.46 L394.86,76.39 L395.26,76.31 L395.66,76.24 L396.05,76.16 L396.45,76.08 L396.85,76.00 L397.25,75.93 L397.65,75.85 L398.05,75.77 L398.45,75.69 L398.85,75.62 L399.25,75.54 L399.65,75.46 L400.05,75.38 L400.44,75.30 L400.84,75.22 L401.24,75.14 L401.64,75.06 L402.04,74.98 L402.44,74.91 L402.84,74.83 L403.24,74.75 L403.64,74.67 L404.04,74.59 L404.43,74.51 L404.83,74.42 L405.23,74.34 L405.63,74.26 L406.03,74.18 L406.43,74.10 L406.83,74.02 L407.23,73.94 L407.63,73.86 L408.03,73.77 L408.42,73.69 L408.82,73.61 L409.22,73.53 L409.62,73.45 L410.02,73.36 L410.42,73.28 L410.82,73.20 L411.22,73.12 L411.62,73.03 L412.02,72.95 L412.42,72.87 L412.81,72.78 L413.21,72.70 L413.61,72.62 L414.01,72.53 L414.41,72.45 L414.81,72.37 L415.21,72.28 L415.61,72.20 L416.01,72.11 L416.41,72.03 L416.80,71.95 L417.20,71.86 L417.60,71.78 L418.00,71.69 L418.40,71.61 L418.80,71.52 L419.20,71.44 L419.60,71.35 L420.00,71.27 L420.40,71.18 L420.79,71.10 L421.19,71.01 L421.59,70.93 L421.99,70.84 L422.39,70.75 L422.79,70.67 L423.19,70.58 L423.59,70.50 L423.99,70.41 L424.39,70.33 L424.79,70.24 L425.18,70.15 L425.58,70.07 L425.98,69.98 L426.38,69.90 L426.78,69.81 L427.18,69.72 L427.58,69.64 L427.98,69.55 L428.38,69.46 L428.78,69.38 L429.17,69.29 L429.57,69.21 L429.97,69.12 L430.37,69.03 L430.77,68.95 L431.17,68.86 L431.57,68.77 L431.97,68.69 L432.37,68.60 L432.77,68.51 L433.16,68.43 L433.56,68.34 L433.96,68.25 L434.36,68.17 L434.76,68.08 L435.16,67.99 L435.56,67.91 L435.96,67.82 L436.36,67.73 L436.76,67.65 L437.16,67.56 L437.55,67.47 L437.95,67.39 L438.35,67.30 L438.75,67.21 L439.15,67.13 L439.55,67.04 L439.95,66.95 L440.35,66.87 L440.75,66.78 L441.15,66.69 L441.54,66.61 L441.94,66.52 L442.34,66.44 L442.74,66.35 L443.14,66.26 L443.54,66.18 L443.94,66.09 L444.34,66.01 L444.74,65.92 L445.14,65.83 L445.53,65.75 L445.93,65.66 L446.33,65.58 L446.73,65.49 L447.13,65.41 L447.53,65.32 L447.93,65.24 L448.33,65.15 L448.73,65.06 L449.13,64.98 L449.53,64.90 L449.92,64.81 L450.32,64.73 L450.72,64.64 L451.12,64.56 L451.52,64.47 L451.92,64.39 L452.32,64.30 L452.72,64.22 L453.12,64.14 L453.52,64.05 L453.91,63.97 L454.31,63.88 L454.71,63.80 L455.11,63.72 L455.51,63.63 L455.91,63.55 L456.31,63.47 L456.71,63.39 L457.11,63.30 L457.51,63.22 L457.90,63.14 L458.30,63.06 L458.70,62.97 L459.10,62.89 L459.50,62.81 L459.90,62.73 L460.30,62.65 L460.70,62.57 L461.10,62.49 L461.50,62.40 L461.90,62.32 L462.29,62.24 L462.69,62.16 L463.09,62.08 L463.49,62.00 L463.89,61.92 L464.29,61.84 L464.69,61.77 L465.09,61.69 L465.49,61.61 L465.89,61.53 L466.28,61.45 L466.68,61.37 L467.08,61.29 L467.48,61.22 L467.88,61.14 L468.28,61.06 L468.68,60.98 L469.08,60.91 L469.48,60.83 L469.88,60.75 L470.27,60.68 L470.67,60.60 L471.07,60.53 L471.47,60.45 L471.87,60.38 L472.27,60.30 L472.67,60.23 L473.07,60.15 L473.47,60.08 L473.87,60.00 L474.27,59.93 L474.66,59.86 L475.06,59.78 L475.46,59.71 L475.86,59.64 L476.26,59.57 L476.66,59.49 L477.06,59.42 L477.46,59.35 L477.86,59.28 L478.26,59.21 L478.65,59.14 L479.05,59.07 L479.45,59.00 L479.85,58.93 L480.25,58.86 L480.65,58.79 L481.05,58.72 L481.45,58.65 L481.85,58.58 L482.25,58.52 L482.64,58.45 L483.04,58.38 L483.44,58.32 L483.84,58.25 L484.24,58.18 L484.64,58.12 L485.04,58.05 L485.44,57.99 L485.84,57.92 L486.24,57.86 L486.64,57.79 L487.03,57.73 L487.43,57.67 L487.83,57.61 L488.23,57.54 L488.63,57.48 L489.03,57.42 L489.43,57.36 L489.83,57.30 L490.23,57.24 L490.63,57.18 L491.02,57.12 L491.42,57.06 L491.82,57.00 L492.22,56.94 L492.62,56.88 L493.02,56.82 L493.42,56.76 L493.82,56.71 L494.22,56.65 L494.62,56.59 L495.01,56.54 L495.41,56.48 L495.81,56.43 L496.21,56.37 L496.61,56.32 L497.01,56.27 L497.41,56.21 L497.81,56.16 L498.21,56.11 L498.61,56.06 L499.01,56.00 L499.40,55.95 L499.80,55.90 L500.20,55.85 L500.60,55.80 L501.00,55.75 L501.40,55.70 L501.80,55.66 L502.20,55.61 L502.60,55.56 L503.00,55.51 L503.39,55.47 L503.79,55.42 L504.19,55.38 L504.59,55.33 L504.99,55.29 L505.39,55.24 L505.79,55.20 L506.19,55.15 L506.59,55.11 L506.99,55.07 L507.38,55.03 L507.78,54.99 L508.18,54.95 L508.58,54.91 L508.98,54.87 L509.38,54.83 L509.78,54.79 L510.18,54.75 L510.58,54.71 L510.98,54.67 L511.38,54.64 L511.77,54.60 L512.17,54.57 L512.57,54.53 L512.97,54.50 L513.37,54.46 L513.77,54.43 L514.17,54.40 L514.57,54.36 L514.97,54.33 L515.37,54.30 L515.76,54.27 L516.16,54.24 L516.56,54.21 L516.96,54.18 L517.36,54.15 L517.76,54.12 L518.16,54.10 L518.56,54.07 L518.96,54.04 L519.36,54.02 L519.75,53.99 L520.15,53.97 L520.55,53.94 L520.95,53.92 L521.35,53.90 L521.75,53.88 L522.15,53.85 L522.55,53.83 L522.95,53.81 L523.35,53.79 L523.75,53.77 L524.14,53.76 L524.54,53.74 L524.94,53.72 L525.34,53.70 L525.74,53.69 L526.14,53.67 L526.54,53.66 L526.94,53.64 L527.34,53.63 L527.74,53.61 L528.13,53.60 L528.53,53.59 L528.93,53.58 L529.33,53.57 L529.73,53.56 L530.13,53.55 L530.53,53.54 L530.93,53.53 L531.33,53.52 L531.73,53.51 L532.12,53.51 L532.52,53.50 L532.92,53.50 L533.32,53.49 L533.72,53.49 L534.12,53.49 L534.52,53.48 L534.92,53.48 L535.32,53.48 L535.72,53.48 L536.12,53.48 L536.51,53.48 L536.91,53.48 L537.31,53.48 L537.71,53.49 L538.11,53.49 L538.51,53.49 L538.91,53.50 L539.31,53.50 L539.71,53.51 L540.11,53.52 L540.50,53.52 L540.90,53.53 L541.30,53.54 L541.70,53.55 L542.10,53.56 L542.50,53.57 L542.90,53.58 L543.30,53.60 L543.70,53.61 L544.10,53.62 L544.49,53.64 L544.89,53.65 L545.29,53.67 L545.69,53.68 L546.09,53.70 L546.49,53.72 L546.89,53.74 L547.29,53.76 L547.69,53.78 L548.09,53.80 L548.49,53.82 L548.88,53.84 L549.28,53.86 L549.68,53.89 L550.08,53.91 L550.48,53.93 L550.88,53.96 L551.28,53.99 L551.68,54.01 L552.08,54.04 L552.48,54.07 L552.87,54.10 L553.27,54.13 L553.67,54.16 L554.07,54.19 L554.47,54.22 L554.87,54.26 L555.27,54.29 L555.67,54.32 L556.07,54.36 L556.47,54.39 L556.86,54.43 L557.26,54.47 L557.66,54.51 L558.06,54.55 L558.46,54.59 L558.86,54.63 L559.26,54.67 L559.66,54.71 L560.06,54.75 L560.46,54.79 L560.86,54.84 L561.25,54.88 L561.65,54.93 L562.05,54.97 L562.45,55.02 L562.85,55.07 L563.25,55.12 L563.65,55.17 L564.05,55.22 L564.45,55.27 L564.85,55.32 L565.24,55.37 L565.64,55.43 L566.04,55.48 L566.44,55.53 L566.84,55.59 L567.24,55.65 L567.64,55.70 L568.04,55.76 L568.44,55.82 L568.84,55.88 L569.23,55.94 L569.63,56.00 L570.03,56.06 L570.43,56.12 L570.83,56.19 L571.23,56.25 L571.63,56.31 L572.03,56.38 L572.43,56.45 L572.83,56.51 L573.23,56.58 L573.62,56.65 L574.02,56.72 L574.42,56.79 L574.82,56.86 L575.22,56.93 L575.62,57.00 L576.02,57.08 L576.42,57.15 L576.82,57.23 L577.22,57.30 L577.61,57.38 L578.01,57.46 L578.41,57.53 L578.81,57.61 L579.21,57.69 L579.61,57.77 L580.01,57.85 L580.41,57.94 L580.81,58.02 L581.21,58.10 L581.61,58.19 L582.00,58.27 L582.40,58.36 L582.80,58.44 L583.20,58.53 L583.60,58.62 L584.00,58.71 L584.40,58.80 L584.80,58.89 L585.20,58.98 L585.60,59.07 L585.99,59.17 L586.39,59.26 L586.79,59.35 L587.19,59.45 L587.59,59.55 L587.99,59.64 L588.39,59.74 L588.79,59.84 L589.19,59.94 L589.59,60.04 L589.98,60.14 L590.38,60.24 L590.78,60.35 L591.18,60.45 L591.58,60.55 L591.98,60.66 L592.38,60.76 L592.78,60.87 L593.18,60.98 L593.58,61.09 L593.98,61.20 L594.37,61.31 L594.77,61.42 L595.17,61.53 L595.57,61.64 L595.97,61.75 L596.37,61.87 L596.77,61.98 L597.17,62.10 L597.57,62.21 L597.97,62.33 L598.36,62.45 L598.76,62.57 L599.16,62.69 L599.56,62.81 L599.96,62.93 L600.36,63.05 L600.76,63.17 L601.16,63.29 L601.56,63.42 L601.96,63.54 L602.35,63.67 L602.75,63.80 L603.15,63.92 L603.55,64.05 L603.95,64.18 L604.35,64.31 L604.75,64.44 L605.15,64.57 L605.55,64.70 L605.95,64.84 L606.35,64.97 L606.74,65.11 L607.14,65.24 L607.54,65.38 L607.94,65.51 L608.34,65.65 L608.74,65.79 L609.14,65.93 L609.54,66.07 L609.94,66.21 L610.34,66.35 L610.73,66.49 L611.13,66.64 L611.53,66.78 L611.93,66.92 L612.33,67.07 L612.73,67.22 L613.13,67.36 L613.53,67.51 L613.93,67.66 L614.33,67.81 L614.72,67.96 L615.12,68.11 L615.52,68.26 L615.92,68.41 L616.32,68.57 L616.72,68.72 L617.12,68.88 L617.52,69.03 L617.92,69.19 L618.32,69.35 L618.72,69.50 L619.11,69.66 L619.51,69.82 L619.91,69.98 L620.31,70.14 L620.71,70.30 L621.11,70.47 L621.51,70.63 L621.91,70.79 L622.31,70.96 L622.71,71.12 L623.10,71.29 L623.50,71.46 L623.90,71.62 L624.30,71.79 L624.70,71.96 L625.10,72.13 L625.50,72.30 L625.90,72.47 L626.30,72.65 L626.70,72.82 L627.09,72.99 L627.49,73.17 L627.89,73.34 L628.29,73.52 L628.69,73.70 L629.09,73.87 L629.49,74.05 L629.89,74.23 L630.29,74.41 L630.69,74.59 L631.09,74.77 L631.48,74.95 L631.88,75.14 L632.28,75.32 L632.68,75.50 L633.08,75.69 L633.48,75.87 L633.88,76.06 L634.28,76.25 L634.68,76.44 L635.08,76.62 L635.47,76.81 L635.87,77.00 L636.27,77.19 L636.67,77.38 L637.07,77.58 L637.47,77.77 L637.87,77.96 L638.27,78.16 L638.67,78.35 L639.07,78.55 L639.46,78.74 L639.86,78.94 L640.26,79.14 L640.66,79.34 L641.06,79.54 L641.46,79.74 L641.86,79.94 L642.26,80.14 L642.66,80.34 L643.06,80.54 L643.46,80.74 L643.85,80.95 L644.25,81.15 L644.65,81.36 L645.05,81.56 L645.45,81.77 L645.85,81.98 L646.25,82.19 L646.65,82.40 L647.05,82.61 L647.45,82.82 L647.84,83.03 L648.24,83.24 L648.64,83.45 L649.04,83.66 L649.44,83.88 L649.84,84.09 L650.24,84.30 L650.64,84.52 L651.04,84.74 L651.44,84.95 L651.83,85.17 L652.23,85.39 L652.63,85.61 L653.03,85.83 L653.43,86.05 L653.83,86.27 L654.23,86.49 L654.63,86.71 L655.03,86.93 L655.43,87.16 L655.83,87.38 L656.22,87.60 L656.62,87.83 L657.02,88.05 L657.42,88.28 L657.82,88.51 L658.22,88.74 L658.62,88.96 L659.02,89.19 L659.42,89.42 L659.82,89.65 L660.21,89.88 L660.61,90.11 L661.01,90.35 L661.41,90.58 L661.81,90.81 L662.21,91.05 L662.61,91.28 L663.01,91.52 L663.41,91.75 L663.81,91.99 L664.20,92.22 L664.60,92.46 L665.00,92.70 L665.40,92.94 L665.80,93.18 L666.20,93.42 L666.60,93.66 L667.00,93.90 L667.40,94.14 L667.80,94.38 L668.20,94.62 L668.59,94.87 L668.99,95.11 L669.39,95.36 L669.79,95.60 L670.19,95.85 L670.59,96.09 L670.99,96.34 L671.39,96.59 L671.79,96.83 L672.19,97.08 L672.58,97.33 L672.98,97.58 L673.38,97.83 L673.78,98.08 L674.18,98.33 L674.58,98.58 L674.98,98.84 L675.38,99.09 L675.78,99.34 L676.18,99.60 L676.57,99.85 L676.97,100.11 L677.37,100.36 L677.77,100.62 L678.17,100.87 L678.57,101.13 L678.97,101.39 L679.37,101.65 L679.77,101.91 L680.17,102.17 L680.57,102.42 L680.96,102.69 L681.36,102.95 L681.76,103.21 L682.16,103.47 L682.56,103.73 L682.96,103.99 L683.36,104.26 L683.76,104.52 L684.16,104.79 L684.56,105.05 L684.95,105.32 L685.35,105.58 L685.75,105.85 L686.15,106.11 L686.55,106.38 L686.95,106.65 L687.35,106.92 L687.75,107.19 L688.15,107.45 L688.55,107.72 L688.94,107.99 L689.34,108.27 L689.74,108.54 L690.14,108.81 L690.54,109.08 L690.94,109.35 L691.34,109.63 L691.74,109.90 L692.14,110.17 L692.54,110.45 L692.94,110.72 L693.33,111.00 L693.73,111.27 L694.13,111.55 L694.53,111.83 L694.93,112.10 L695.33,112.38 L695.73,112.66 L696.13,112.94 L696.53,113.21 L696.93,113.49 L697.32,113.77 L697.72,114.05 L698.12,114.33 L698.52,114.62 L698.92,114.90 L699.32,115.18 L699.72,115.46 L700.12,115.74 L700.52,116.03 L700.92,116.31 L701.31,116.59 L701.71,116.88 L702.11,117.16 L702.51,117.45 L702.91,117.73 L703.31,118.02 L703.71,118.31 L704.11,118.59 L704.51,118.88 L704.91,119.17 L705.31,119.45 L705.70,119.74 L706.10,120.03 L706.50,120.32 L706.90,120.61 L707.30,120.90 L707.70,121.19 L708.10,121.48 L708.50,121.77 L708.90,122.06 L709.30,122.35 L709.69,122.65 L710.09,122.94 L710.49,123.23 L710.89,123.53 L711.29,123.82 L711.69,124.11 L712.09,124.41 L712.49,124.70 L712.89,125.00 L713.29,125.29 L713.68,125.59 L714.08,125.88 L714.48,126.18 L714.88,126.48 L715.28,126.77 L715.68,127.07 L716.08,127.37 L716.48,127.67 L716.88,127.97 L717.28,128.27 L717.68,128.56 L718.07,128.86 L718.47,129.16 L718.87,129.46 L719.27,129.76 L719.67,130.07 L720.07,130.37 L720.47,130.67 L720.87,130.97 L721.27,131.27 L721.67,131.57 L722.06,131.88 L722.46,132.18 L722.86,132.48 L723.26,132.79 L723.66,133.09 L724.06,133.40 L724.46,133.70 L724.86,134.01 L725.26,134.31 L725.66,134.62 L726.05,134.92 L726.45,135.23 L726.85,135.53 L727.25,135.84 L727.65,136.15 L728.05,136.46"/>
<path stroke="#00ff00" d="M129.90,129.91 L130.30,129.91 L130.70,129.92 L131.10,129.92 L131.50,129.92 L131.90,129.92 L132.29,129.92 L132.69,129.92 L133.09,129.92 L133.49,129.92 L133.89,129.92 L134.29,129.92 L134.69,129.92 L135.09,129.92 L135.49,129.92 L135.89,129.92 L136.28,129.92 L136.68,129.92 L137.08,129.92 L137.48,129.92 L137.88,129.92 L138.28,129.92 L138.68,129.92 L139.08,129.92 L139.48,129.92 L139.88,129.92 L140.27,129.92 L140.67,129.92 L141.07,129.92 L141.47,129.92 L141.87,129.92 L142.27,129.92 L142.67,129.92 L143.07,129.92 L143.47,129.92 L143.87,129.92 L144.27,129.92 L144.66,129.92 L145.06,129.92 L145.46,129.92 L145.86,129.92 L146.26,129.92 L146.66,129.92 L147.06,129.92 L147.46,129.93 L147.86,129.93 L148.26,129.93 L148.65,129.93 L149.05,129.93 L149.45,129.93 L149.85,129.93 L150.25,129.93 L150.65,129.93 L151.05,129.93 L151.45,129.93 L151.85,129.93 L152.25,129.93 L152.64,129.93 L153.04,129.93 L153.44,129.93 L153.84,129.93 L154.24,129.93 L154.64,129.93 L155.04,129.93 L155.44,129.93 L155.84,129.93 L156.24,129.93 L156.64,129.93 L157.03,129.93 L157.43,129.93 L157.83,129.93 L158.23,129.93 L158.63,129.93 L159.03,129.93 L159.43,129.93 L159.83,129.94 L160.23,129.94 L160.63,129.94 L161.02,129.94 L161.42,129.94 L161.82,129.94 L162.22,129.94 L162.62,129.94 L163.02,129.94 L163.42,129.94 L163.82,129.94 L164.22,129.94 L164.62,129.94 L165.01,129.94 L165.41,129.94 L165.81,129.94 L166.21,129.94 L166.61,129.94 L167.01,129.94 L167.41,129.94 L167.81,129.94 L168.21,129.94 L168.61,129.94 L169.01,129.94 L169.40,129.95 L169.80,129.95 L170.20,129.95 L170.60,129.95 L171.00,129.95 L171.40,129.95 L171.80,129.95 L172.20,129.95 L172.60,129.95 L173.00,129.95 L173.39,129.95 L173.79,129.95 L174.19,129.95 L174.59,129.95 L174.99,129.95 L175.39,129.95 L175.79,129.95 L176.19,129.95 L176.59,129.95 L176.99,129.95 L177.38,129.95 L177.78,129.96 L178.18,129.96 L178.58,129.96 L178.98,129.96 L179.38,129.96 L179.78,129.96 L180.18,129.96 L180.58,129.96 L180.98,129.96 L181.38,129.96 L181.77,129.96 L182.17,129.96 L182.57,129.96 L182.97,129.96 L183.37,129.96 L183.77,129.96 L184.17,129.96 L184.57,129.97 L184.97,129.97 L185.37,129.97 L185.76,129.97 L186.16,129.97 L186.56,129.97 L186.96,129.97 L187.36,129.97 L187.76,129.97 L188.16,129.97 L188.56,129.97 L188.96,129.97 L189.36,129.97 L189.75,129.97 L190.15,129.97 L190.55,129.98 L190.95,129.98 L191.35,129.98 L191.75,129.98 L192.15,129.98 L192.55,129.98 L192.95,129.98 L193.35,129.98 L193.75,129.98 L194.14,129.98 L194.54,129.98 L194.94,129.98 L195.34,129.98 L195.74,129.98 L196.14,129.99 L196.54,129.99 L196.94,129.99 L197.34,129.99 L197.74,129.99 L198.13,129.99 L198.53,129.99 L198.93,129.99 L199.33,129.99 L199.73,129.99 L200.13,129.99 L200.53,129.99 L200.93,130.00 L201.33,130.00 L201.73,130.00 L202.12,130.00 L202.52,130.00 L202.92,130.00 L203.32,130.00 L203.72,130.00 L204.12,130.00 L204.52,130.00 L204.92,130.00 L205.32,130.01 L205.72,130.01 L206.12,130.01 L206.51,130.01 L206.91,130.01 L207.31,130.01 L207.71,130.01 L208.11,130.01 L208.51,130.01 L208.91,130.01 L209.31,130.02 L209.71,130.02 L210.11,130.02 L210.50,130.02 L210.90,130.02 L211.30,130.02 L211.70,130.02 L212.10,130.02 L212.50,130.02 L212.90,130.02 L213.30,130.03 L213.70,130.03 L214.10,130.03 L214.49,130.03 L214.89,130.03 L215.29,130.03 L215.69,130.03 L216.09,130.03 L216.49,130.04 L216.89,130.04 L217.29,130.04 L217.69,130.04 L218.09,130.04 L218.49,130.04 L218.88,130.04 L219.28,130.04 L219.68,130.05 L220.08,130.05 L220.48,130.05 L220.88,130.05 L221.28,130.05 L221.68,130.05 L222.08,130.05 L222.48,130.05 L222.87,130.06 L223.27,130.06 L223.67,130.06 L224.07,130.06 L224.47,130.06 L224.87,130.06 L225.27,130.06 L225.67,130.07 L226.07,130.07 L226.47,130.07 L226.86,130.07 L227.26,130.07 L227.66,130.07 L228.06,130.07 L228.46,130.08 L228.86,130.08 L229.26,130.08 L229.66,130.08 L230.06,130.08 L230.46,130.08 L230.86,130.09 L231.25,130.09 L231.65,130.09 L232.05,130.09 L232.45,130.09 L232.85,130.09 L233.25,130.09 L233.65,130.10 L234.05,130.10 L234.45,130.10 L234.85,130.10 L235.24,130.10 L235.64,130.11 L236.04,130.11 L236.44,130.11 L236.84,130.11 L237.24,130.11 L237.64,130.11 L238.04,130.12 L238.44,130.12 L238.84,130.12 L239.23,130.12 L239.63,130.12 L240.03,130.13 L240.43,130.13 L240.83,130.13 L241.23,130.13 L241.63,130.13 L242.03,130.14 L242.43,130.14 L242.83,130.14 L243.23,130.14 L243.62,130.14 L244.02,130.15 L244.42,130.15 L244.82,130.15 L245.22,130.15 L245.62,130.15 L246.02,130.16 L246.42,130.16 L246.82,130.16 L247.22,130.16 L247.61,130.16 L248.01,130.17 L248.41,130.17 L248.81,130.17 L249.21,130.17 L249.61,130.18 L250.01,130.18 L250.41,130.18 L250.81,130.18 L251.21,130.19 L251.60,130.19 L252.00,130.19 L252.40,130.19 L252.80,130.20 L253.20,130.20 L253.60,130.20 L254.00,130.20 L254.40,130.21 L254.80,130.21 L255.20,130.21 L255.60,130.21 L255.99,130.22 L256.39,130.22 L256.79,130.22 L257.19,130.22 L257.59,130.23 L257.99,130.23 L258.39,130.23 L258.79,130.23 L259.19,130.24 L259.59,130.24 L259.98,130.24 L260.38,130.25 L260.78,130.25 L261.18,130.25 L261.58,130.25 L261.98,130.26 L262.38,130.26 L262.78,130.26 L263.18,130.27 L263.58,130.27 L263.97,130.27 L264.37,130.28 L264.77,130.28 L265.17,130.28 L265.57,130.28 L265.97,130.29 L266.37,130.29 L266.77,130.29 L267.17,130.30 L267.57,130.30 L267.97,130.30 L268.36,130.31 L268.76,130.31 L269.16,130.31 L269.56,130.32 L269.96,130.32 L270.36,130.32 L270.76,130.33 L271.16,130.33 L271.56,130.34 L271.96,130.34 L272.35,130.34 L272.75,130.35 L273.15,130.35 L273.55,130.35 L273.95,130.36 L274.35,130.36 L274.75,130.36 L275.15,130.37 L275.55,130.37 L275.95,130.38 L276.34,130.38 L276.74,130.38 L277.14,130.39 L277.54,130.39 L277.94,130.40 L278.34,130.40 L278.74,130.40 L279.14,130.41 L279.54,130.41 L279.94,130.42 L280.34,130.42 L280.73,130.42 L281.13,130.43 L281.53,130.43 L281.93,130.44 L282.33,130.44 L282.73,130.45 L283.13,130.45 L283.53,130.46 L283.93,130.46 L284.33,130.46 L284.72,130.47 L285.12,130.47 L285.52,130.48 L285.92,130.48 L286.32,130.49 L286.72,130.49 L287.12,130.50 L287.52,130.50 L287.92,130.51 L288.32,130.51 L288.72,130.52 L289.11,130.52 L289.51,130.53 L289.91,130.53 L290.31,130.54 L290.71,130.54 L291.11,130.55 L291.51,130.55 L291.91,130.56 L292.31,130.56 L292.71,130.57 L293.10,130.57 L293.50,130.58 L293.90,130.58 L294.30,130.59 L294.70,130.60 L295.10,130.60 L295.50,130.61 L295.90,130.61 L296.30,130.62 L296.70,130.62 L297.09,130.63 L297.49,130.64 L297.89,130.64 L298.29,130.65 L298.69,130.65 L299.09,130.66 L299.49,130.66 L299.89,130.67 L300.29,130.68 L300.69,130.68 L301.09,130.69 L301.48,130.70 L301.88,130.70 L302.28,130.71 L302.68,130.71 L303.08,130.72 L303.48,130.73 L303.88,130.73 L304.28,130.74 L304.68,130.75 L305.08,130.75 L305.47,130.76 L305.87,130.77 L306.27,130.78 L306.67,130.78 L307.07,130.79 L307.47,130.80 L307.87,130.80 L308.27,130.81 L308.67,130.82 L309.07,130.82 L309.46,130.83 L309.86,130.84 L310.26,130.85 L310.66,130.85 L311.06,130.86 L311.46,130.87 L311.86,130.88 L312.26,130.88 L312.66,130.89 L313.06,130.90 L313.46,130.91 L313.85,130.92 L314.25,130.92 L314.65,130.93 L315.05,130.94 L315.45,130.95 L315.85,130.96 L316.25,130.96 L316.65,130.97 L317.05,130.98 L317.45,130.99 L317.84,131.00 L318.24,131.01 L318.64,131.02 L319.04,131.02 L319.44,131.03 L319.84,131.04 L320.24,131.05 L320.64,131.06 L321.04,131.07 L321.44,131.08 L321.83,131.09 L322.23,131.10 L322.63,131.11 L323.03,131.11 L323.43,131.12 L323.83,131.13 L324.23,131.14 L324.63,131.15 L325.03,131.16 L325.43,131.17 L325.83,131.18 L326.22,131.19 L326.62,131.20 L327.02,131.21 L327.42,131.22 L327.82,131.23 L328.22,131.24 L328.62,131.25 L329.02,131.26 L329.42,131.27 L329.82,131.28 L330.21,131.30 L330.61,131.31 L331.01,131.32 L331.41,131.33 L331.81,131.34 L332.21,131.35 L332.61,131.36 L333.01,131.37 L333.41,131.38 L333.81,131.40 L334.20,131.41 L334.60,131.42 L335.00,131.43 L335.40,131.44 L335.80,131.45 L336.20,131.47 L336.60,131.48 L337.00,131.49 L337.40,131.50 L337.80,131.51 L338.20,131.53 L338.59,131.54 L338.99,131.55 L339.39,131.56 L339.79,131.58 L340.19,131.59 L340.59,131.60 L340.99,131.61 L341.39,131.63 L341.79,131.64 L342.19,131.65 L342.58,131.67 L342.98,131.68 L343.38,131.69 L343.78,131.71 L344.18,131.72 L344.58,131.74 L344.98,131.75 L345.38,131.76 L345.78,131.78 L346.18,131.79 L346.57,131.81 L346.97,131.82 L347.37,131.83 L347.77,131.85 L348.17,131.86 L348.57,131.88 L348.97,131.89 L349.37,131.91 L349.77,131.92 L350.17,131.94 L350.57,131.95 L350.96,131.97 L351.36,131.99 L351.76,132.00 L352.16,132.02 L352.56,132.03 L352.96,132.05 L353.36,132.07 L353.76,132.08 L354.16,132.10 L354.56,132.11 L354.95,132.13 L355.35,132.15 L355.75,132.16 L356.15,132.18 L356.55,132.20 L356.95,132.22 L357.35,132.23 L357.75,132.25 L358.15,132.27 L358.55,132.29 L358.94,132.30 L359.34,132.32 L359.74,132.34 L360.14,132.36 L360.54,132.38 L360.94,132.39 L361.34,132.41 L361.74,132.43 L362.14,132.45 L362.54,132.47 L362.94,132.49 L363.33,132.51 L363.73,132.53 L364.13,132.55 L364.53,132.56 L364.93,132.58 L365.33,132.60 L365.73,132.62 L366.13,132.64 L366.53,132.66 L366.93,132.69 L367.32,132.71 L367.72,132.73 L368.12,132.75 L368.52,132.77 L368.92,132.79 L369.32,132.81 L369.72,132.83 L370.12,132.85 L370.52,132.87 L370.92,132.90 L371.31,132.92 L371.71,132.94 L372.11,132.96 L372.51,132.99 L372.91,133.01 L373.31,133.03 L373.71,133.05 L374.11,133.08 L374.51,133.10 L374.91,133.12 L375.31,133.15 L375.70,133.17 L376.10,133.19 L376.50,133.22 L376.90,133.24 L377.30,133.27 L377.70,133.29 L378.10,133.32 L378.50,133.34 L378.90,133.37 L379.30,133.39 L379.69,133.42 L380.09,133.44 L380.49,133.47 L380.89,133.49 L381.29,133.52 L381.69,133.54 L382.09,133.57 L382.49,133.60 L382.89,133.62 L383.29,133.65 L383.68,133.68 L384.08,133.71 L384.48,133.73 L384.88,133.76 L385.28,133.79 L385.68,133.82 L386.08,133.84 L386.48,133.87 L386.88,133.90 L387.28,133.93 L387.68,133.96 L388.07,133.99 L388.47,134.02 L388.87,134.05 L389.27,134.08 L389.67,134.11 L390.07,134.14 L390.47,134.17 L390.87,134.20 L391.27,134.23 L391.67,134.26 L392.06,134.29 L392.46,134.32 L392.86,134.35 L393.26,134.38 L393.66,134.41 L394.06,134.45 L394.46,134.48 L394.86,134.51 L395.26,134.54 L395.66,134.58 L396.05,134.61 L396.45,134.64 L396.85,134.68 L397.25,134.71 L397.65,134.74 L398.05,134.78 L398.45,134.81 L398.85,134.85 L399.25,134.88 L399.65,134.92 L400.05,134.95 L400.44,134.99 L400.84,135.02 L401.24,135.06 L401.64,135.10 L402.04,135.13 L402.44,135.17 L402.84,135.21 L403.24,135.24 L403.64,135.28 L404.04,135.32 L404.43,135.36 L404.83,135.39 L405.23,135.43 L405.63,135.47 L406.03,135.51 L406.43,135.55 L406.83,135.59 L407.23,135.63 L407.63,135.67 L408.03,135.71 L408.42,135.75 L408.82,135.79 L409.22,135.83 L409.62,135.87 L410.02,135.91 L410.42,135.95 L410.82,135.99 L411.22,136.04 L411.62,136.08 L412.02,136.12 L412.42,136.16 L412.81,136.21 L413.21,136.25 L413.61,136.30 L414.01,136.34 L414.41,136.38 L414.81,136.43 L415.21,136.47 L415.61,136.52 L416.01,136.56 L416.41,136.61 L416.80,136.65 L417.20,136.70 L417.60,136.75 L418.00,136.79 L418.40,136.84 L418.80,136.89 L419.20,136.94 L419.60,136.98 L420.00,137.03 L420.40,137.08 L420.79,137.13 L421.19,137.18 L421.59,137.23 L421.99,137.28 L422.39,137.33 L422.79,137.38 L423.19,137.43 L423.59,137.48 L423.99,137.53 L424.39,137.58 L424.79,137.64 L425.18,137.69 L425.58,137.74 L425.98,137.79 L426.38,137.85 L426.78,137.90 L427.18,137.95 L427.58,138.01 L427.98,138.06 L428.38,138.12 L428.78,138.17 L429.17,138.23 L429.57,138.28 L429.97,138.34 L430.37,138.40 L430.77,138.45 L431.17,138.51 L431.57,138.57 L431.97,138.62 L432.37,138.68 L432.77,138.74 L433.16,138.80 L433.56,138.86 L433.96,138.92 L434.36,138.98 L434.76,139.04 L435.16,139.10 L435.56,139.16 L435.96,139.22 L436.36,139.28 L436.76,139.35 L437.16,139.41 L437.55,139.47 L437.95,139.53 L438.35,139.60 L438.75,139.66 L439.15,139.73 L439.55,139.79 L439.95,139.86 L440.35,139.92 L440.75,139.99 L441.15,140.05 L441.54,140.12 L441.94,140.19 L442.34,140.25 L442.74,140.32 L443.14,140.39 L443.54,140.46 L443.94,140.53 L444.34,140.60 L444.74,140.67 L445.14,140.74 L445.53,140.81 L445.93,140.88 L446.33,140.95 L446.73,141.02 L447.13,141.09 L447.53,141.17 L447.93,141.24 L448.33,141.31 L448.73,141.39 L449.13,141.46 L449.53,141.54 L449.92,141.61 L450.32,141.69 L450.72,141.76 L451.12,141.84 L451.52,141.92 L451.92,141.99 L452.32,142.07 L452.72,142.15 L453.12,142.23 L453.52,142.31 L453.91,142.39 L454.31,142.47 L454.71,142.55 L455.11,142.63 L455.51,142.71 L455.91,142.79 L456.31,142.87 L456.71,142.96 L457.11,143.04 L457.51,143.12 L457.90,143.21 L458.30,143.29 L458.70,143.38 L459.10,143.46 L459.50,143.55 L459.90,143.64 L460.30,143.72 L460.70,143.81 L461.10,143.90 L461.50,143.99 L461.90,144.07 L462.29,144.16 L462.69,144.25 L463.09,144.34 L463.49,144.44 L463.89,144.53 L464.29,144.62 L464.69,144.71 L465.09,144.80 L465.49,144.90 L465.89,144.99 L466.28,145.09 L466.68,145.18 L467.08,145.28 L467.48,145.37 L467.88,145.47 L468.28,145.57 L468.68,145.66 L469.08,145.76 L469.48,145.86 L469.88,145.96 L470.27,146.06 L470.67,146.16 L471.07,146.26 L471.47,146.36 L471.87,146.46 L472.27,146.56 L472.67,146.67 L473.07,146.77 L473.47,146.87 L473.87,146.98 L474.27,147.08 L474.66,147.19 L475.06,147.30 L475.46,147.40 L475.86,147.51 L476.26,147.62 L476.66,147.73 L477.06,147.84 L477.46,147.95 L477.86,148.06 L478.26,148.17 L478.65,148.28 L479.05,148.39 L479.45,148.50 L479.85,148.62 L480.25,148.73 L480.65,148.84 L481.05,148.96 L481.45,149.07 L481.85,149.19 L482.25,149.31 L482.64,149.43 L483.04,149.54 L483.44,149.66 L483.84,149.78 L484.24,149.90 L484.64,150.02 L485.04,150.14 L485.44,150.26 L485.84,150.39 L486.24,150.51 L486.64,150.63 L487.03,150.76 L487.43,150.88 L487.83,151.01 L488.23,151.13 L488.63,151.26 L489.03,151.39 L489.43,151.52 L489.83,151.64 L490.23,151.77 L490.63,151.90 L491.02,152.04 L491.42,152.17 L491.82,152.30 L492.22,152.43 L492.62,152.56 L493.02,152.70 L493.42,152.83 L493.82,152.97 L494.22,153.10 L494.62,153.24 L495.01,153.38 L495.41,153.52 L495.81,153.66 L496.21,153.80 L496.61,153.94 L497.01,154.08 L497.41,154.22 L497.81,154.36 L498.21,154.50 L498.61,154.65 L499.01,154.79 L499.40,154.94 L499.80,155.08 L500.20,155.23 L500.60,155.38 L501.00,155.52 L501.40,155.67 L501.80,155.82 L502.20,155.97 L502.60,156.12 L503.00,156.28 L503.39,156.43 L503.79,156.58 L504.19,156.74 L504.59,156.89 L504.99,157.05 L505.39,157.20 L505.79,157.36 L506.19,157.52 L506.59,157.68 L506.99,157.83 L507.38,157.99 L507.78,158.16 L508.18,158.32 L508.58,158.48 L508.98,158.64 L509.38,158.81 L509.78,158.97 L510.18,159.14 L510.58,159.30 L510.98,159.47 L511.38,159.64 L511.77,159.81 L512.17,159.98 L512.57,160.15 L512.97,160.32 L513.37,160.49 L513.77,160.66 L514.17,160.83 L514.57,161.01 L514.97,161.18 L515.37,161.36 L515.76,161.54 L516.16,161.71 L516.56,161.89 L516.96,162.07 L517.36,162.25 L517.76,162.43 L518.16,162.62 L518.56,162.80 L518.96,162.98 L519.36,163.17 L519.75,163.35 L520.15,163.54 L520.55,163.72 L520.95,163.91 L521.35,164.10 L521.75,164.29 L522.15,164.48 L522.55,164.67 L522.95,164.86 L523.35,165.06 L523.75,165.25 L524.14,165.45 L524.54,165.64 L524.94,165.84 L525.34,166.04 L525.74,166.23 L526.14,166.43 L526.54,166.63 L526.94,166.83 L527.34,167.04 L527.74,167.24 L528.13,167.44 L528.53,167.65 L528.93,167.85 L529.33,168.06 L529.73,168.27 L530.13,168.48 L530.53,168.69 L530.93,168.90 L531.33,169.11 L531.73,169.32 L532.12,169.53 L532.52,169.75 L532.92,169.96 L533.32,170.18 L533.72,170.40 L534.12,170.61 L534.52,170.83 L534.92,171.05 L535.32,171.27 L535.72,171.49 L536.12,171.72 L536.51,171.94 L536.91,172.17 L537.31,172.39 L537.71,172.62 L538.11,172.85 L538.51,173.08 L538.91,173.31 L539.31,173.54 L539.71,173.77 L540.11,174.00 L540.50,174.23 L540.90,174.47 L541.30,174.71 L541.70,174.94 L542.10,175.18 L542.50,175.42 L542.90,175.66 L543.30,175.90 L543.70,176.14 L544.10,176.39 L544.49,176.63 L544.89,176.88 L545.29,177.12 L545.69,177.37 L546.09,177.62 L546.49,177.87 L546.89,178.12 L547.29,178.37 L547.69,178.62 L548.09,178.88 L548.49,179.13 L548.88,179.39 L549.28,179.64 L549.68,179.90 L550.08,180.16 L550.48,180.42 L550.88,180.68 L551.28,180.94 L551.68,181.21 L552.08,181.47 L552.48,181.74 L552.87,182.01 L553.27,182.27 L553.67,182.54 L554.07,182.81 L554.47,183.09 L554.87,183.36 L555.27,183.63 L555.67,183.91 L556.07,184.18 L556.47,184.46 L556.86,184.74 L557.26,185.02 L557.66,185.30 L558.06,185.58 L558.46,185.86 L558.86,186.15 L559.26,186.43 L559.66,186.72 L560.06,187.01 L560.46,187.30 L560.86,187.59 L561.25,187.88 L561.65,188.17 L562.05,188.47 L562.45,188.76 L562.85,189.06 L563.25,189.35 L563.65,189.65 L564.05,189.95 L564.45,190.25 L564.85,190.56 L565.24,190.86 L565.64,191.17 L566.04,191.47 L566.44,191.78 L566.84,192.09 L567.24,192.40 L567.64,192.71 L568.04,193.02 L568.44,193.34 L568.84,193.65 L569.23,193.97 L569.63,194.29 L570.03,194.60 L570.43,194.92 L570.83,195.25 L571.23,195.57 L571.63,195.89 L572.03,196.22 L572.43,196.55 L572.83,196.87 L573.23,197.20 L573.62,197.54 L574.02,197.87 L574.42,198.20 L574.82,198.54 L575.22,198.87 L575.62,199.21 L576.02,199.55 L576.42,199.89 L576.82,200.23 L577.22,200.58 L577.61,200.92 L578.01,201.27 L578.41,201.61 L578.81,201.96 L579.21,202.31 L579.61,202.66 L580.01,203.02 L580.41,203.37 L580.81,203.73 L581.21,204.09 L581.61,204.44 L582.00,204.81 L582.40,205.17 L582.80,205.53 L583.20,205.90 L583.60,206.26 L584.00,206.63 L584.40,207.00 L584.80,207.37 L585.20,207.74 L585.60,208.12 L585.99,208.49 L586.39,208.87 L586.79,209.25 L587.19,209.63 L587.59,210.01 L587.99,210.39 L588.39,210.78 L588.79,211.16 L589.19,211.55 L589.59,211.94 L589.98,212.33 L590.38,212.72 L590.78,213.12 L591.18,213.51 L591.58,213.91 L591.98,214.31 L592.38,214.71 L592.78,215.11 L593.18,215.52 L593.58,215.92 L593.98,216.33 L594.37,216.74 L594.77,217.15 L595.17,217.57 L595.57,217.98 L595.97,218.40 L596.37,218.81 L596.77,219.23 L597.17,219.65 L597.57,220.08 L597.97,220.50 L598.36,220.93 L598.76,221.36 L599.16,221.79 L599.56,222.22 L599.96,222.65 L600.36,223.09 L600.76,223.53 L601.16,223.97 L601.56,224.41 L601.96,224.85 L602.35,225.30 L602.75,225.74 L603.15,226.19 L603.55,226.64 L603.95,227.10 L604.35,227.55 L604.75,228.01 L605.15,228.47 L605.55,228.93 L605.95,229.39 L606.35,229.86 L606.74,230.32 L607.14,230.79 L607.54,231.26 L607.94,231.74 L608.34,232.21 L608.74,232.69 L609.14,233.17 L609.54,233.65 L609.94,234.14 L610.34,234.62 L610.73,235.11 L611.13,235.60 L611.53,236.09 L611.93,236.59 L612.33,237.09 L612.73,237.59 L613.13,238.09 L613.53,238.59 L613.93,239.10 L614.33,239.61 L614.72,240.12 L615.12,240.64 L615.52,241.15 L615.92,241.67 L616.32,242.19 L616.72,242.72 L617.12,243.24 L617.52,243.77 L617.92,244.30 L618.32,244.84 L618.72,245.37 L619.11,245.91 L619.51,246.46 L619.91,247.00 L620.31,247.55 L620.71,248.10 L621.11,248.65 L621.51,249.21 L621.91,249.77 L622.31,250.33 L622.71,250.90 L623.10,251.46 L623.50,252.04 L623.90,252.61 L624.30,253.19 L624.70,253.77 L625.10,254.35 L625.50,254.94 L625.90,255.53 L626.30,256.12 L626.70,256.72 L627.09,257.32 L627.49,257.92 L627.89,258.53 L628.29,259.14 L628.69,259.75 L629.09,260.37 L629.49,260.99 L629.89,261.62 L630.29,262.24 L630.69,262.88 L631.09,263.51 L631.48,264.15 L631.88,264.80 L632.28,265.45 L632.68,266.10 L633.08,266.76 L633.48,267.42 L633.88,268.08 L634.28,268.75 L634.68,269.43 L635.08,270.11 L635.47,270.79 L635.87,271.48 L636.27,272.17 L636.67,272.87 L637.07,273.57 L637.47,274.28 L637.87,274.99 L638.27,275.71 L638.67,276.44 L639.07,277.17 L639.46,277.90 L639.86,278.64 L640.26,279.39 L640.66,280.14 L641.06,280.90 L641.46,281.66 L641.86,282.44 L642.26,283.21 L642.66,284.00 L643.06,284.79 L643.46,285.59 L643.85,286.39 L644.25,287.21 L644.65,288.03 L645.05,288.86 L645.45,289.69 L645.85,290.54 L646.25,291.39 L646.65,292.25 L647.05,293.12 L647.45,294.00 L647.84,294.89 L648.24,295.78 L648.64,296.69 L649.04,297.61 L649.44,298.54 L649.84,299.48 L650.24,300.43 L650.64,301.39 L651.04,302.36 L651.44,303.35 L651.83,304.35 L652.23,305.36 L652.63,306.39 L653.03,307.43 L653.43,308.49 L653.83,309.56 L654.23,310.64 L654.63,311.75 L655.03,312.87 L655.43,314.01 L655.83,315.16 L656.22,316.34 L656.62,317.54 L657.02,318.76 L657.42,320.00 L657.82,321.27 L658.22,322.56 L658.62,323.88 L659.02,325.22 L659.42,326.60 L659.82,328.00 L660.21,329.44 L660.61,330.92 L661.01,332.43 L661.41,333.98 L661.81,335.57 L662.21,337.21 L662.61,338.90 L663.01,340.64 L663.41,342.44 L663.81,344.29 L664.20,346.22 L664.60,348.22 L665.00,350.29 L665.40,352.46 L665.80,354.72 L666.20,357.09 L666.60,359.58 L667.00,362.20 L667.40,364.98 L667.80,367.94 L668.20,371.10 L668.59,374.49 L668.99,378.17 L669.39,382.19 L669.79,386.62 L670.19,391.58 L670.59,397.21 L670.99,403.75 L671.39,411.58 L671.79,421.39 L672.19,434.60 L672.58,440.00 L672.98,440.00 L673.38,440.00 L673.78,440.00 L674.18,431.43 L674.58,420.37 L674.98,412.08 L675.38,405.47 L675.78,400.01 L676.18,395.35 L676.57,391.32 L676.97,387.76 L677.37,384.59 L677.77,381.74 L678.17,379.16 L678.57,376.80 L678.97,374.63 L679.37,372.63 L679.77,370.78 L680.17,369.05 L680.57,367.45 L680.96,365.94 L681.36,364.54 L681.76,363.21 L682.16,361.96 L682.56,360.78 L682.96,359.67 L683.36,358.62 L683.76,357.62 L684.16,356.67 L684.56,355.77 L684.95,354.92 L685.35,354.10 L685.75,353.33 L686.15,352.59 L686.55,351.88 L686.95,351.21 L687.35,350.57 L687.75,349.95 L688.15,349.36 L688.55,348.80 L688.94,348.27 L689.34,347.75 L689.74,347.26 L690.14,346.79 L690.54,346.34 L690.94,345.91 L691.34,345.50 L691.74,345.10 L692.14,344.72 L692.54,344.36 L692.94,344.02 L693.33,343.69 L693.73,343.37 L694.13,343.07 L694.53,342.78 L694.93,342.50 L695.33,342.24 L695.73,341.98 L696.13,341.74 L696.53,341.51 L696.93,341.30 L697.32,341.09 L697.72,340.89 L698.12,340.70 L698.52,340.52 L698.92,340.35 L699.32,340.19 L699.72,340.04 L700.12,339.90 L700.52,339.76 L700.92,339.63 L701.31,339.52 L701.71,339.40 L702.11,339.30 L702.51,339.20 L702.91,339.11 L703.31,339.03 L703.71,338.95 L704.11,338.88 L704.51,338.82 L704.91,338.76 L705.31,338.71 L705.70,338.66 L706.10,338.62 L706.50,338.58 L706.90,338.55 L707.30,338.53 L707.70,338.51 L708.10,338.50 L708.50,338.49 L708.90,338.49 L709.30,338.49 L709.69,338.49 L710.09,338.50 L710.49,338.52 L710.89,338.54 L711.29,338.56 L711.69,338.59 L712.09,338.62 L712.49,338.65 L712.89,338.69 L713.29,338.74 L713.68,338.78 L714.08,338.84 L714.48,338.89 L714.88,338.95 L715.28,339.01 L715.68,339.08 L716.08,339.15 L716.48,339.22 L716.88,339.29 L717.28,339.37 L717.68,339.46 L718.07,339.54 L718.47,339.63 L718.87,339.72 L719.27,339.82 L719.67,339.91 L720.07,340.01 L720.47,340.12 L720.87,340.22 L721.27,340.33 L721.67,340.44 L722.06,340.56 L722.46,340.67 L722.86,340.79 L723.26,340.91 L723.66,341.04 L724.06,341.17 L724.46,341.30 L724.86,341.43 L725.26,341.56 L725.66,341.70 L726.05,341.84 L726.45,341.98 L726.85,342.12 L727.25,342.27 L727.65,342.41 L728.05,342.56"/>
</g>
<g fill="none" stroke="#000">
<path d="M115.5,36.800000000000004V422.76" stroke-width="0.58"/>
<path d="M738.5,36.800000000000004V422.76" stroke-width="0.66"/>
<path d="M115.21,37.1H738.83" stroke-width="0.6"/>
<path d="M115.21,422.5H738.83" stroke-width="0.52"/>
<path d="M127.50,422.50L127.50,415.10M127.50,37.10L127.50,44.50M156.10,422.50L156.10,419.70M156.10,37.10L156.10,39.90M172.83,422.50L172.83,419.70M172.83,37.10L172.83,39.90M184.70,422.50L184.70,419.70M184.70,37.10L184.70,39.90M193.90,422.50L193.90,419.70M193.90,37.10L193.90,39.90M201.42,422.50L201.42,419.70M201.42,37.10L201.42,39.90M207.78,422.50L207.78,419.70M207.78,37.10L207.78,39.90M213.29,422.50L213.29,419.70M213.29,37.10L213.29,39.90M218.15,422.50L218.15,419.70M218.15,37.10L218.15,39.90M222.50,422.50L222.50,415.10M222.50,37.10L222.50,44.50M251.10,422.50L251.10,419.70M251.10,37.10L251.10,39.90M267.83,422.50L267.83,419.70M267.83,37.10L267.83,39.90M279.70,422.50L279.70,419.70M279.70,37.10L279.70,39.90M288.90,422.50L288.90,419.70M288.90,37.10L288.90,39.90M296.42,422.50L296.42,419.70M296.42,37.10L296.42,39.90M302.78,422.50L302.78,419.70M302.78,37.10L302.78,39.90M308.29,422.50L308.29,419.70M308.29,37.10L308.29,39.90M313.15,422.50L313.15,419.70M313.15,37.10L313.15,39.90M317.50,422.50L317.50,415.10M317.50,37.10L317.50,44.50M346.10,422.50L346.10,419.70M346.10,37.10L346.10,39.90M362.83,422.50L362.83,419.70M362.83,37.10L362.83,39.90M374.70,422.50L374.70,419.70M374.70,37.10L374.70,39.90M383.90,422.50L383.90,419.70M383.90,37.10L383.90,39.90M391.42,422.50L391.42,419.70M391.42,37.10L391.42,39.90M397.78,422.50L397.78,419.70M397.78,37.10L397.78,39.90M403.29,422.50L403.29,419.70M403.29,37.10L403.29,39.90M408.15,422.50L408.15,419.70M408.15,37.10L408.15,39.90M412.50,422.50L412.50,415.10M412.50,37.10L412.50,44.50M441.10,422.50L441.10,419.70M441.10,37.10L441.10,39.90M457.83,422.50L457.83,419.70M457.83,37.10L457.83,39.90M469.70,422.50L469.70,419.70M469.70,37.10L469.70,39.90M478.90,422.50L478.90,419.70M478.90,37.10L478.90,39.90M486.42,422.50L486.42,419.70M486.42,37.10L486.42,39.90M492.78,422.50L492.78,419.70M492.78,37.10L492.78,39.90M498.29,422.50L498.29,419.70M498.29,37.10L498.29,39.90M503.15,422.50L503.15,419.70M503.15,37.10L503.15,39.90M507.50,422.50L507.50,415.10M507.50,37.10L507.50,44.50M536.10,422.50L536.10,419.70M536.10,37.10L536.10,39.90M552.83,422.50L552.83,419.70M552.83,37.10L552.83,39.90M564.70,422.50L564.70,419.70M564.70,37.10L564.70,39.90M573.90,422.50L573.90,419.70M573.90,37.10L573.90,39.90M581.42,422.50L581.42,419.70M581.42,37.10L581.42,39.90M587.78,422.50L587.78,419.70M587.78,37.10L587.78,39.90M593.29,422.50L593.29,419.70M593.29,37.10L593.29,39.90M598.15,422.50L598.15,419.70M598.15,37.10L598.15,39.90M602.50,422.50L602.50,415.10M602.50,37.10L602.50,44.50M631.10,422.50L631.10,419.70M631.10,37.10L631.10,39.90M647.83,422.50L647.83,419.70M647.83,37.10L647.83,39.90M659.70,422.50L659.70,419.70M659.70,37.10L659.70,39.90M668.90,422.50L668.90,419.70M668.90,37.10L668.90,39.90M676.42,422.50L676.42,419.70M676.42,37.10L676.42,39.90M682.78,422.50L682.78,419.70M682.78,37.10L682.78,39.90M688.29,422.50L688.29,419.70M688.29,37.10L688.29,39.90M693.15,422.50L693.15,419.70M693.15,37.10L693.15,39.90M697.50,422.50L697.50,415.10M697.50,37.10L697.50,44.50" stroke-width="0.62"/>
<path d="M115.50,415.40L122.90,415.40M738.50,415.40L731.10,415.40M115.50,390.49L118.30,390.49M738.50,390.49L735.70,390.49M115.50,375.92L118.30,375.92M738.50,375.92L735.70,375.92M115.50,365.58L118.30,365.58M738.50,365.58L735.70,365.58M115.50,357.56L118.30,357.56M738.50,357.56L735.70,357.56M115.50,351.01L118.30,351.01M738.50,351.01L735.70,351.01M115.50,345.47L118.30,345.47M738.50,345.47L735.70,345.47M115.50,340.67L118.30,340.67M738.50,340.67L735.70,340.67M115.50,336.44L118.30,336.44M738.50,336.44L735.70,336.44M115.50,332.65L122.90,332.65M738.50,332.65L731.10,332.65M115.50,307.74L118.30,307.74M738.50,307.74L735.70,307.74M115.50,293.17L118.30,293.17M738.50,293.17L735.70,293.17M115.50,282.83L118.30,282.83M738.50,282.83L735.70,282.83M115.50,274.81L118.30,274.81M738.50,274.81L735.70,274.81M115.50,268.26L118.30,268.26M738.50,268.26L735.70,268.26M115.50,262.72L118.30,262.72M738.50,262.72L735.70,262.72M115.50,257.92L118.30,257.92M738.50,257.92L735.70,257.92M115.50,253.69L118.30,253.69M738.50,253.69L735.70,253.69M115.50,249.90L122.90,249.90M738.50,249.90L731.10,249.90M115.50,224.99L118.30,224.99M738.50,224.99L735.70,224.99M115.50,210.42L118.30,210.42M738.50,210.42L735.70,210.42M115.50,200.08L118.30,200.08M738.50,200.08L735.70,200.08M115.50,192.06L118.30,192.06M738.50,192.06L735.70,192.06M115.50,185.51L118.30,185.51M738.50,185.51L735.70,185.51M115.50,179.97L118.30,179.97M738.50,179.97L735.70,179.97M115.50,175.17L118.30,175.17M738.50,175.17L735.70,175.17M115.50,170.94L118.30,170.94M738.50,170.94L735.70,170.94M115.50,167.15L122.90,167.15M738.50,167.15L731.10,167.15M115.50,142.24L118.30,142.24M738.50,142.24L735.70,142.24M115.50,127.67L118.30,127.67M738.50,127.67L735.70,127.67M115.50,117.33L118.30,117.33M738.50,117.33L735.70,117.33M115.50,109.31L118.30,109.31M738.50,109.31L735.70,109.31M115.50,102.76L118.30,102.76M738.50,102.76L735.70,102.76M115.50,97.22L118.30,97.22M738.50,97.22L735.70,97.22M115.50,92.42L118.30,92.42M738.50,92.42L735.70,92.42M115.50,88.19L118.30,88.19M738.50,88.19L735.70,88.19M115.50,84.40L122.90,84.40M738.50,84.40L731.10,84.40" stroke-width="0.5"/>
</g>
<g font-family="'Liberation Serif', serif" fill="#000" font-size="29.3">
<text x="109.4" y="92" text-anchor="end">10</text>
<text x="108.2" y="173.6" text-anchor="end">1</text>
<text x="108.2" y="256.8" text-anchor="end">0.1</text>
<text x="108.2" y="339.4" text-anchor="end">0.01</text>
<text x="108.2" y="422" text-anchor="end">0.001</text>
<text x="101.9" y="457">10</text>
<text x="131.3" y="446.8" font-size="20.6">−</text>
<text x="143.1" y="446.8" font-size="20.6">5</text>
<text x="196.9" y="457">10</text>
<text x="226.3" y="446.8" font-size="20.6">−</text>
<text x="238.1" y="446.8" font-size="20.6">4</text>
<text x="317.3" y="451" text-anchor="middle">0.001</text>
<text x="412.3" y="451" text-anchor="middle">0.01</text>
<text x="507.3" y="451" text-anchor="middle">0.1</text>
<text x="602.3" y="451" text-anchor="middle">1</text>
<text x="697.5" y="451" text-anchor="middle">10</text>
<defs><clipPath id="qc"><rect x="-2" y="-30" width="30" height="30.55"/></clipPath></defs>
<g transform="translate(190.3,77)"><g clip-path="url(#qc)"><text x="0" y="0" font-style="italic">Q</text></g><path d="M2.67,4.45C4.53,2.47 7.02,1.10 9.50,0.11L11.49,0.11C12.92,1.72 16.33,2.47 19.69,0.85C18.69,3.09 15.84,4.33 12.61,4.02C10.12,3.77 8.38,2.53 7.02,2.53C5.46,2.65 3.91,3.89 2.67,4.45Z" fill="#000"/></g>
<text x="211.9" y="81.6" font-size="20.6">4</text>
<text x="223.9" y="77" font-style="italic">C</text>
<text x="242.9" y="81.6" font-size="20.6">4</text>
<g transform="translate(286.2,116)"><g clip-path="url(#qc)"><text x="0" y="0" font-style="italic">Q</text></g><path d="M2.67,4.45C4.53,2.47 7.02,1.10 9.50,0.11L11.49,0.11C12.92,1.72 16.33,2.47 19.69,0.85C18.69,3.09 15.84,4.33 12.61,4.02C10.12,3.77 8.38,2.53 7.02,2.53C5.46,2.65 3.91,3.89 2.67,4.45Z" fill="#000"/></g>
<text x="307.8" y="120.6" font-size="20.6">5</text>
<text x="319.8" y="116" font-style="italic">C</text>
<text x="338.8" y="120.6" font-size="20.6">5</text>
<g transform="translate(190.3,199.7)"><g clip-path="url(#qc)"><text x="0" y="0" font-style="italic">Q</text></g><path d="M2.67,4.45C4.53,2.47 7.02,1.10 9.50,0.11L11.49,0.11C12.92,1.72 16.33,2.47 19.69,0.85C18.69,3.09 15.84,4.33 12.61,4.02C10.12,3.77 8.38,2.53 7.02,2.53C5.46,2.65 3.91,3.89 2.67,4.45Z" fill="#000"/></g>
<text x="211.9" y="204.29999999999998" font-size="20.6">1</text>
<text x="223.9" y="199.7" font-style="italic">C</text>
<text x="243.10000000000002" y="204.29999999999998" font-size="20.6">1</text>
<text transform="translate(414.3,501.2) scale(1.22,1)" font-style="italic" font-size="26.8">x</text>
<text transform="translate(428.0,506.5) scale(1.12,1)" font-style="italic" font-size="18.2">g</text>
<path d="M430.3,494.9 C431.4,492.6 432.8,493.3 433.6,494.1 C434.5,495.0 435.8,495.2 436.7,493.0" fill="none" stroke="#000" stroke-width="1.1"/>
</g>
</svg>
</body></html>
